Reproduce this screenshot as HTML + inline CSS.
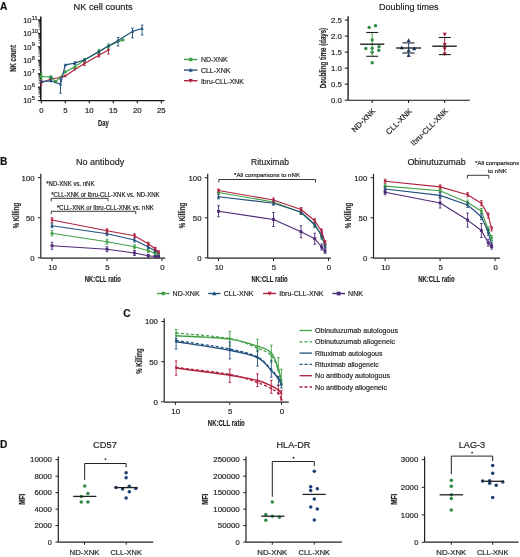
<!DOCTYPE html>
<html><head><meta charset="utf-8"><style>
html,body{margin:0;padding:0;background:#fff;width:520px;height:557px;overflow:hidden}
svg{display:block;will-change:transform}
text{font-family:"Liberation Sans", sans-serif;stroke:#222;stroke-width:0.18px;paint-order:stroke}
</style></head><body>
<svg width="520" height="557" viewBox="0 0 520 557">
<rect width="520" height="557" fill="#fff"/>
<text x="0" y="10.2" font-size="10.2" text-anchor="start" fill="#111" font-weight="bold">A</text>
<text x="0" y="165.2" font-size="10.2" text-anchor="start" fill="#111" font-weight="bold">B</text>
<text x="123.2" y="316.6" font-size="10.2" text-anchor="start" fill="#111" font-weight="bold">C</text>
<text x="0" y="447.9" font-size="10.2" text-anchor="start" fill="#111" font-weight="bold">D</text>
<text x="103.1" y="9.5" font-size="9.2" text-anchor="middle" fill="#222" textLength="59.2" lengthAdjust="spacingAndGlyphs">NK cell counts</text>
<line x1="40.8" y1="16.5" x2="40.8" y2="100.6" stroke="#111" stroke-width="1.5"/>
<line x1="37.8" y1="19.9" x2="40.8" y2="19.9" stroke="#111" stroke-width="1.1"/>
<line x1="38.6" y1="29.3" x2="40.8" y2="29.3" stroke="#111" stroke-width="0.8"/>
<line x1="38.6" y1="26.93" x2="40.8" y2="26.93" stroke="#111" stroke-width="0.8"/>
<line x1="38.6" y1="25.25" x2="40.8" y2="25.25" stroke="#111" stroke-width="0.8"/>
<line x1="38.6" y1="23.95" x2="40.8" y2="23.95" stroke="#111" stroke-width="0.8"/>
<line x1="38.6" y1="22.88" x2="40.8" y2="22.88" stroke="#111" stroke-width="0.8"/>
<line x1="38.6" y1="21.98" x2="40.8" y2="21.98" stroke="#111" stroke-width="0.8"/>
<line x1="38.6" y1="21.2" x2="40.8" y2="21.2" stroke="#111" stroke-width="0.8"/>
<line x1="38.6" y1="20.52" x2="40.8" y2="20.52" stroke="#111" stroke-width="0.8"/>
<text x="31.6" y="22.6" font-size="7.6" text-anchor="end" fill="#222">10</text>
<text x="31.7" y="19.5" font-size="5.6" fill="#222">11</text>
<line x1="37.8" y1="33.35" x2="40.8" y2="33.35" stroke="#111" stroke-width="1.1"/>
<line x1="38.6" y1="42.75" x2="40.8" y2="42.75" stroke="#111" stroke-width="0.8"/>
<line x1="38.6" y1="40.38" x2="40.8" y2="40.38" stroke="#111" stroke-width="0.8"/>
<line x1="38.6" y1="38.7" x2="40.8" y2="38.7" stroke="#111" stroke-width="0.8"/>
<line x1="38.6" y1="37.4" x2="40.8" y2="37.4" stroke="#111" stroke-width="0.8"/>
<line x1="38.6" y1="36.33" x2="40.8" y2="36.33" stroke="#111" stroke-width="0.8"/>
<line x1="38.6" y1="35.43" x2="40.8" y2="35.43" stroke="#111" stroke-width="0.8"/>
<line x1="38.6" y1="34.65" x2="40.8" y2="34.65" stroke="#111" stroke-width="0.8"/>
<line x1="38.6" y1="33.97" x2="40.8" y2="33.97" stroke="#111" stroke-width="0.8"/>
<text x="31.6" y="36.05" font-size="7.6" text-anchor="end" fill="#222">10</text>
<text x="31.7" y="32.95" font-size="5.6" fill="#222">10</text>
<line x1="37.8" y1="46.8" x2="40.8" y2="46.8" stroke="#111" stroke-width="1.1"/>
<line x1="38.6" y1="56.2" x2="40.8" y2="56.2" stroke="#111" stroke-width="0.8"/>
<line x1="38.6" y1="53.83" x2="40.8" y2="53.83" stroke="#111" stroke-width="0.8"/>
<line x1="38.6" y1="52.15" x2="40.8" y2="52.15" stroke="#111" stroke-width="0.8"/>
<line x1="38.6" y1="50.85" x2="40.8" y2="50.85" stroke="#111" stroke-width="0.8"/>
<line x1="38.6" y1="49.78" x2="40.8" y2="49.78" stroke="#111" stroke-width="0.8"/>
<line x1="38.6" y1="48.88" x2="40.8" y2="48.88" stroke="#111" stroke-width="0.8"/>
<line x1="38.6" y1="48.1" x2="40.8" y2="48.1" stroke="#111" stroke-width="0.8"/>
<line x1="38.6" y1="47.42" x2="40.8" y2="47.42" stroke="#111" stroke-width="0.8"/>
<text x="31.6" y="49.5" font-size="7.6" text-anchor="end" fill="#222">10</text>
<text x="31.7" y="46.4" font-size="5.6" fill="#222">9</text>
<line x1="37.8" y1="60.25" x2="40.8" y2="60.25" stroke="#111" stroke-width="1.1"/>
<line x1="38.6" y1="69.65" x2="40.8" y2="69.65" stroke="#111" stroke-width="0.8"/>
<line x1="38.6" y1="67.28" x2="40.8" y2="67.28" stroke="#111" stroke-width="0.8"/>
<line x1="38.6" y1="65.6" x2="40.8" y2="65.6" stroke="#111" stroke-width="0.8"/>
<line x1="38.6" y1="64.3" x2="40.8" y2="64.3" stroke="#111" stroke-width="0.8"/>
<line x1="38.6" y1="63.23" x2="40.8" y2="63.23" stroke="#111" stroke-width="0.8"/>
<line x1="38.6" y1="62.33" x2="40.8" y2="62.33" stroke="#111" stroke-width="0.8"/>
<line x1="38.6" y1="61.55" x2="40.8" y2="61.55" stroke="#111" stroke-width="0.8"/>
<line x1="38.6" y1="60.87" x2="40.8" y2="60.87" stroke="#111" stroke-width="0.8"/>
<text x="31.6" y="62.95" font-size="7.6" text-anchor="end" fill="#222">10</text>
<text x="31.7" y="59.85" font-size="5.6" fill="#222">8</text>
<line x1="37.8" y1="73.7" x2="40.8" y2="73.7" stroke="#111" stroke-width="1.1"/>
<line x1="38.6" y1="83.1" x2="40.8" y2="83.1" stroke="#111" stroke-width="0.8"/>
<line x1="38.6" y1="80.73" x2="40.8" y2="80.73" stroke="#111" stroke-width="0.8"/>
<line x1="38.6" y1="79.05" x2="40.8" y2="79.05" stroke="#111" stroke-width="0.8"/>
<line x1="38.6" y1="77.75" x2="40.8" y2="77.75" stroke="#111" stroke-width="0.8"/>
<line x1="38.6" y1="76.68" x2="40.8" y2="76.68" stroke="#111" stroke-width="0.8"/>
<line x1="38.6" y1="75.78" x2="40.8" y2="75.78" stroke="#111" stroke-width="0.8"/>
<line x1="38.6" y1="75" x2="40.8" y2="75" stroke="#111" stroke-width="0.8"/>
<line x1="38.6" y1="74.32" x2="40.8" y2="74.32" stroke="#111" stroke-width="0.8"/>
<text x="31.6" y="76.4" font-size="7.6" text-anchor="end" fill="#222">10</text>
<text x="31.7" y="73.3" font-size="5.6" fill="#222">7</text>
<line x1="37.8" y1="87.15" x2="40.8" y2="87.15" stroke="#111" stroke-width="1.1"/>
<line x1="38.6" y1="96.55" x2="40.8" y2="96.55" stroke="#111" stroke-width="0.8"/>
<line x1="38.6" y1="94.18" x2="40.8" y2="94.18" stroke="#111" stroke-width="0.8"/>
<line x1="38.6" y1="92.5" x2="40.8" y2="92.5" stroke="#111" stroke-width="0.8"/>
<line x1="38.6" y1="91.2" x2="40.8" y2="91.2" stroke="#111" stroke-width="0.8"/>
<line x1="38.6" y1="90.13" x2="40.8" y2="90.13" stroke="#111" stroke-width="0.8"/>
<line x1="38.6" y1="89.23" x2="40.8" y2="89.23" stroke="#111" stroke-width="0.8"/>
<line x1="38.6" y1="88.45" x2="40.8" y2="88.45" stroke="#111" stroke-width="0.8"/>
<line x1="38.6" y1="87.77" x2="40.8" y2="87.77" stroke="#111" stroke-width="0.8"/>
<text x="31.6" y="89.85" font-size="7.6" text-anchor="end" fill="#222">10</text>
<text x="31.7" y="86.75" font-size="5.6" fill="#222">6</text>
<line x1="37.8" y1="100.6" x2="40.8" y2="100.6" stroke="#111" stroke-width="1.1"/>
<text x="31.6" y="103.3" font-size="7.6" text-anchor="end" fill="#222">10</text>
<text x="31.7" y="100.2" font-size="5.6" fill="#222">5</text>
<line x1="40.8" y1="100.6" x2="164.5" y2="100.6" stroke="#111" stroke-width="1.1"/>
<line x1="41.3" y1="100.6" x2="41.3" y2="103.4" stroke="#111" stroke-width="1.0"/>
<text x="41.3" y="112.6" font-size="7.8" text-anchor="middle" fill="#222">0</text>
<line x1="65.3" y1="100.6" x2="65.3" y2="103.4" stroke="#111" stroke-width="1.0"/>
<text x="65.3" y="112.6" font-size="7.8" text-anchor="middle" fill="#222">5</text>
<line x1="89.3" y1="100.6" x2="89.3" y2="103.4" stroke="#111" stroke-width="1.0"/>
<text x="89.3" y="112.6" font-size="7.8" text-anchor="middle" fill="#222">10</text>
<line x1="113.3" y1="100.6" x2="113.3" y2="103.4" stroke="#111" stroke-width="1.0"/>
<text x="113.3" y="112.6" font-size="7.8" text-anchor="middle" fill="#222">15</text>
<line x1="137.3" y1="100.6" x2="137.3" y2="103.4" stroke="#111" stroke-width="1.0"/>
<text x="137.3" y="112.6" font-size="7.8" text-anchor="middle" fill="#222">20</text>
<line x1="161.3" y1="100.6" x2="161.3" y2="103.4" stroke="#111" stroke-width="1.0"/>
<text x="161.3" y="112.6" font-size="7.8" text-anchor="middle" fill="#222">25</text>
<text x="103.45" y="125.6" font-size="9.8" text-anchor="middle" fill="#222" font-weight="bold" textLength="10.7" lengthAdjust="spacingAndGlyphs">Day</text>
<text x="16.5" y="58.4" font-size="9.4" text-anchor="middle" fill="#222" font-weight="bold" textLength="26.7" lengthAdjust="spacingAndGlyphs" transform="rotate(-90 16.5 58.4)">NK count</text>
<polyline points="41.3,82.8 50.9,79 60.5,77.5 65.3,76.1 74.9,69.4 84.5,63.6 98.9,55.3 108.5,50" fill="none" stroke="#b0223f" stroke-width="1.2" stroke-linejoin="round"/>
<line x1="108.5" y1="46" x2="108.5" y2="54" stroke="#b0223f" stroke-width="0.9"/>
<line x1="107.2" y1="46" x2="109.8" y2="46" stroke="#b0223f" stroke-width="0.9"/>
<line x1="107.2" y1="54" x2="109.8" y2="54" stroke="#b0223f" stroke-width="0.9"/>
<line x1="84.5" y1="61.5" x2="84.5" y2="65.5" stroke="#b0223f" stroke-width="0.9"/>
<line x1="83.2" y1="61.5" x2="85.8" y2="61.5" stroke="#b0223f" stroke-width="0.9"/>
<line x1="83.2" y1="65.5" x2="85.8" y2="65.5" stroke="#b0223f" stroke-width="0.9"/>
<line x1="98.9" y1="53.5" x2="98.9" y2="57" stroke="#b0223f" stroke-width="0.9"/>
<line x1="97.6" y1="53.5" x2="100.2" y2="53.5" stroke="#b0223f" stroke-width="0.9"/>
<line x1="97.6" y1="57" x2="100.2" y2="57" stroke="#b0223f" stroke-width="0.9"/>
<line x1="41.3" y1="80.5" x2="41.3" y2="85" stroke="#b0223f" stroke-width="0.9"/>
<line x1="40" y1="80.5" x2="42.6" y2="80.5" stroke="#b0223f" stroke-width="0.9"/>
<line x1="40" y1="85" x2="42.6" y2="85" stroke="#b0223f" stroke-width="0.9"/>
<path d="M41.3,84.67 L43,81.44 L39.6,81.44Z" fill="#b0223f"/>
<path d="M50.9,80.87 L52.6,77.64 L49.2,77.64Z" fill="#b0223f"/>
<path d="M60.5,79.37 L62.2,76.14 L58.8,76.14Z" fill="#b0223f"/>
<path d="M65.3,77.97 L67,74.74 L63.6,74.74Z" fill="#b0223f"/>
<path d="M74.9,71.27 L76.6,68.04 L73.2,68.04Z" fill="#b0223f"/>
<path d="M84.5,65.47 L86.2,62.24 L82.8,62.24Z" fill="#b0223f"/>
<path d="M98.9,57.17 L100.6,53.94 L97.2,53.94Z" fill="#b0223f"/>
<path d="M108.5,51.87 L110.2,48.64 L106.8,48.64Z" fill="#b0223f"/>
<polyline points="41.3,76.5 50.9,77.2 55.7,81.7 65.3,71.9 74.9,66.9 84.5,60.1 98.9,51.8 108.5,46 122.9,39.9" fill="none" stroke="#42a247" stroke-width="1.2" stroke-linejoin="round"/>
<line x1="41.3" y1="73.4" x2="41.3" y2="79.5" stroke="#42a247" stroke-width="0.9"/>
<line x1="40" y1="73.4" x2="42.6" y2="73.4" stroke="#42a247" stroke-width="0.9"/>
<line x1="40" y1="79.5" x2="42.6" y2="79.5" stroke="#42a247" stroke-width="0.9"/>
<line x1="50.9" y1="75.8" x2="50.9" y2="78.8" stroke="#42a247" stroke-width="0.9"/>
<line x1="49.6" y1="75.8" x2="52.2" y2="75.8" stroke="#42a247" stroke-width="0.9"/>
<line x1="49.6" y1="78.8" x2="52.2" y2="78.8" stroke="#42a247" stroke-width="0.9"/>
<line x1="84.5" y1="58.5" x2="84.5" y2="61.5" stroke="#42a247" stroke-width="0.9"/>
<line x1="83.2" y1="58.5" x2="85.8" y2="58.5" stroke="#42a247" stroke-width="0.9"/>
<line x1="83.2" y1="61.5" x2="85.8" y2="61.5" stroke="#42a247" stroke-width="0.9"/>
<line x1="98.9" y1="49.4" x2="98.9" y2="53.5" stroke="#42a247" stroke-width="0.9"/>
<line x1="97.6" y1="49.4" x2="100.2" y2="49.4" stroke="#42a247" stroke-width="0.9"/>
<line x1="97.6" y1="53.5" x2="100.2" y2="53.5" stroke="#42a247" stroke-width="0.9"/>
<line x1="108.5" y1="43.8" x2="108.5" y2="48" stroke="#42a247" stroke-width="0.9"/>
<line x1="107.2" y1="43.8" x2="109.8" y2="43.8" stroke="#42a247" stroke-width="0.9"/>
<line x1="107.2" y1="48" x2="109.8" y2="48" stroke="#42a247" stroke-width="0.9"/>
<circle cx="41.3" cy="76.5" r="1.7" fill="#42a247"/>
<circle cx="50.9" cy="77.2" r="1.7" fill="#42a247"/>
<circle cx="55.7" cy="81.7" r="1.7" fill="#42a247"/>
<circle cx="65.3" cy="71.9" r="1.7" fill="#42a247"/>
<circle cx="74.9" cy="66.9" r="1.7" fill="#42a247"/>
<circle cx="84.5" cy="60.1" r="1.7" fill="#42a247"/>
<circle cx="98.9" cy="51.8" r="1.7" fill="#42a247"/>
<circle cx="108.5" cy="46" r="1.7" fill="#42a247"/>
<circle cx="122.9" cy="39.9" r="1.7" fill="#42a247"/>
<polyline points="41.3,81.7 50.9,80.8 60.5,84.2 65.3,64.9 74.9,63.1 84.5,59.8 98.9,51.6 108.5,46 118.1,40.5 132.5,31.4 142.1,28.5" fill="none" stroke="#22507f" stroke-width="1.2" stroke-linejoin="round"/>
<line x1="60.5" y1="79" x2="60.5" y2="93.2" stroke="#22507f" stroke-width="0.9"/>
<line x1="59.2" y1="79" x2="61.8" y2="79" stroke="#22507f" stroke-width="0.9"/>
<line x1="59.2" y1="93.2" x2="61.8" y2="93.2" stroke="#22507f" stroke-width="0.9"/>
<line x1="74.9" y1="61.9" x2="74.9" y2="64.5" stroke="#22507f" stroke-width="0.9"/>
<line x1="73.6" y1="61.9" x2="76.2" y2="61.9" stroke="#22507f" stroke-width="0.9"/>
<line x1="73.6" y1="64.5" x2="76.2" y2="64.5" stroke="#22507f" stroke-width="0.9"/>
<line x1="118.1" y1="37.5" x2="118.1" y2="46" stroke="#22507f" stroke-width="0.9"/>
<line x1="116.8" y1="37.5" x2="119.4" y2="37.5" stroke="#22507f" stroke-width="0.9"/>
<line x1="116.8" y1="46" x2="119.4" y2="46" stroke="#22507f" stroke-width="0.9"/>
<line x1="132.5" y1="28.2" x2="132.5" y2="37.9" stroke="#22507f" stroke-width="0.9"/>
<line x1="131.2" y1="28.2" x2="133.8" y2="28.2" stroke="#22507f" stroke-width="0.9"/>
<line x1="131.2" y1="37.9" x2="133.8" y2="37.9" stroke="#22507f" stroke-width="0.9"/>
<line x1="142.1" y1="25.1" x2="142.1" y2="34.9" stroke="#22507f" stroke-width="0.9"/>
<line x1="140.8" y1="25.1" x2="143.4" y2="25.1" stroke="#22507f" stroke-width="0.9"/>
<line x1="140.8" y1="34.9" x2="143.4" y2="34.9" stroke="#22507f" stroke-width="0.9"/>
<line x1="50.9" y1="77.5" x2="50.9" y2="81" stroke="#22507f" stroke-width="0.9"/>
<line x1="49.6" y1="77.5" x2="52.2" y2="77.5" stroke="#22507f" stroke-width="0.9"/>
<line x1="49.6" y1="81" x2="52.2" y2="81" stroke="#22507f" stroke-width="0.9"/>
<path d="M41.3,79.83 L43,83.06 L39.6,83.06Z" fill="#22507f"/>
<path d="M50.9,78.93 L52.6,82.16 L49.2,82.16Z" fill="#22507f"/>
<path d="M60.5,82.33 L62.2,85.56 L58.8,85.56Z" fill="#22507f"/>
<path d="M65.3,63.03 L67,66.26 L63.6,66.26Z" fill="#22507f"/>
<path d="M74.9,61.23 L76.6,64.46 L73.2,64.46Z" fill="#22507f"/>
<path d="M84.5,57.93 L86.2,61.16 L82.8,61.16Z" fill="#22507f"/>
<path d="M98.9,49.73 L100.6,52.96 L97.2,52.96Z" fill="#22507f"/>
<path d="M108.5,44.13 L110.2,47.36 L106.8,47.36Z" fill="#22507f"/>
<path d="M118.1,38.63 L119.8,41.86 L116.4,41.86Z" fill="#22507f"/>
<path d="M132.5,29.53 L134.2,32.76 L130.8,32.76Z" fill="#22507f"/>
<path d="M142.1,26.63 L143.8,29.86 L140.4,29.86Z" fill="#22507f"/>
<line x1="184" y1="59.5" x2="197.4" y2="59.5" stroke="#42a247" stroke-width="1.4"/>
<circle cx="190.7" cy="59.5" r="2" fill="#42a247"/>
<text x="200.9" y="62.3" font-size="7.9" text-anchor="start" fill="#222" textLength="26.9" lengthAdjust="spacingAndGlyphs">ND-XNK</text>
<line x1="184" y1="70.1" x2="197.4" y2="70.1" stroke="#22507f" stroke-width="1.4"/>
<path d="M190.7,67.9 L192.7,71.7 L188.7,71.7Z" fill="#22507f"/>
<text x="200.9" y="72.9" font-size="7.9" text-anchor="start" fill="#222" textLength="29.6" lengthAdjust="spacingAndGlyphs">CLL-XNK</text>
<line x1="184" y1="80.7" x2="197.4" y2="80.7" stroke="#b0223f" stroke-width="1.4"/>
<path d="M190.7,82.9 L192.7,79.1 L188.7,79.1Z" fill="#b0223f"/>
<text x="200.9" y="83.5" font-size="7.9" text-anchor="start" fill="#222" textLength="43" lengthAdjust="spacingAndGlyphs">Ibru-CLL-XNK</text>
<text x="408.7" y="9.5" font-size="9.2" text-anchor="middle" fill="#222" textLength="59.6" lengthAdjust="spacingAndGlyphs">Doubling times</text>
<line x1="348.1" y1="16.2" x2="348.1" y2="100.2" stroke="#111" stroke-width="1.3"/>
<line x1="348.1" y1="100.2" x2="469.8" y2="100.2" stroke="#111" stroke-width="1.1"/>
<line x1="344.8" y1="100.2" x2="348.1" y2="100.2" stroke="#111" stroke-width="1.0"/>
<text x="341.8" y="103" font-size="7.8" text-anchor="end" fill="#222">0.0</text>
<line x1="344.8" y1="84.17" x2="348.1" y2="84.17" stroke="#111" stroke-width="1.0"/>
<text x="341.8" y="86.97" font-size="7.8" text-anchor="end" fill="#222">0.5</text>
<line x1="344.8" y1="68.14" x2="348.1" y2="68.14" stroke="#111" stroke-width="1.0"/>
<text x="341.8" y="70.94" font-size="7.8" text-anchor="end" fill="#222">1.0</text>
<line x1="344.8" y1="52.11" x2="348.1" y2="52.11" stroke="#111" stroke-width="1.0"/>
<text x="341.8" y="54.91" font-size="7.8" text-anchor="end" fill="#222">1.5</text>
<line x1="344.8" y1="36.08" x2="348.1" y2="36.08" stroke="#111" stroke-width="1.0"/>
<text x="341.8" y="38.88" font-size="7.8" text-anchor="end" fill="#222">2.0</text>
<line x1="344.8" y1="20.05" x2="348.1" y2="20.05" stroke="#111" stroke-width="1.0"/>
<text x="341.8" y="22.85" font-size="7.8" text-anchor="end" fill="#222">2.5</text>
<text x="326.4" y="58" font-size="9.4" text-anchor="middle" fill="#222" font-weight="bold" textLength="60.3" lengthAdjust="spacingAndGlyphs" transform="rotate(-90 326.4 58)">Doubling time (days)</text>
<line x1="372.2" y1="100.2" x2="372.2" y2="103" stroke="#111" stroke-width="1.0"/>
<text x="376" y="111.7" font-size="7.8" text-anchor="end" fill="#222" transform="rotate(-45 376 111.7)">ND-XNK</text>
<line x1="408.6" y1="100.2" x2="408.6" y2="103" stroke="#111" stroke-width="1.0"/>
<text x="412.4" y="111.7" font-size="7.8" text-anchor="end" fill="#222" transform="rotate(-45 412.4 111.7)">CLL-XNK</text>
<line x1="444.7" y1="100.2" x2="444.7" y2="103" stroke="#111" stroke-width="1.0"/>
<text x="448.5" y="111.7" font-size="7.8" text-anchor="end" fill="#222" transform="rotate(-45 448.5 111.7)">Ibru-CLL-XNK</text>
<circle cx="369.1" cy="27.4" r="1.7" fill="#2e8a45"/>
<circle cx="375.5" cy="25.7" r="1.7" fill="#2e8a45"/>
<circle cx="372.2" cy="39.9" r="1.7" fill="#2e8a45"/>
<circle cx="365.8" cy="48.5" r="1.7" fill="#2e8a45"/>
<circle cx="372.2" cy="48.3" r="1.7" fill="#2e8a45"/>
<circle cx="379" cy="46.6" r="1.7" fill="#2e8a45"/>
<circle cx="378.8" cy="50.3" r="1.7" fill="#2e8a45"/>
<circle cx="372.2" cy="52.3" r="1.7" fill="#2e8a45"/>
<circle cx="372.2" cy="62.8" r="1.7" fill="#2e8a45"/>
<line x1="372.2" y1="32.5" x2="372.2" y2="56.3" stroke="#42a247" stroke-width="1.0"/>
<line x1="366.2" y1="32.5" x2="378.3" y2="32.5" stroke="#222" stroke-width="1.1"/>
<line x1="366.2" y1="56.3" x2="378.3" y2="56.3" stroke="#222" stroke-width="1.1"/>
<line x1="360.1" y1="44.2" x2="384.3" y2="44.2" stroke="#111" stroke-width="1.3"/>
<line x1="408.6" y1="42.9" x2="408.6" y2="53" stroke="#22507f" stroke-width="1.0"/>
<path d="M408.6,38.3 L410.6,42.1 L406.6,42.1Z" fill="#1b3f70"/>
<path d="M401.8,45.4 L403.8,49.2 L399.8,49.2Z" fill="#1b3f70"/>
<path d="M414.2,46.5 L416.2,50.3 L412.2,50.3Z" fill="#1b3f70"/>
<path d="M408.6,48.1 L410.6,51.9 L406.6,51.9Z" fill="#1b3f70"/>
<path d="M408.6,53.1 L410.6,56.9 L406.6,56.9Z" fill="#1b3f70"/>
<line x1="402.4" y1="42.9" x2="414.6" y2="42.9" stroke="#222" stroke-width="1.1"/>
<line x1="402.4" y1="53" x2="414.6" y2="53" stroke="#222" stroke-width="1.1"/>
<line x1="396" y1="48" x2="421" y2="48" stroke="#111" stroke-width="1.3"/>
<line x1="444.7" y1="37.5" x2="444.7" y2="54.6" stroke="#b0223f" stroke-width="1.0"/>
<path d="M444.7,36.6 L446.7,32.8 L442.7,32.8Z" fill="#a3163a"/>
<path d="M444.7,46.7 L446.7,42.9 L442.7,42.9Z" fill="#a3163a"/>
<path d="M444.7,51 L446.7,47.2 L442.7,47.2Z" fill="#a3163a"/>
<path d="M444.7,56.3 L446.7,52.5 L442.7,52.5Z" fill="#a3163a"/>
<line x1="438.75" y1="37.5" x2="450.8" y2="37.5" stroke="#222" stroke-width="1.1"/>
<line x1="438.75" y1="54.6" x2="450.8" y2="54.6" stroke="#222" stroke-width="1.1"/>
<line x1="432.3" y1="46.2" x2="456.8" y2="46.2" stroke="#111" stroke-width="1.3"/>
<line x1="40.8" y1="173.8" x2="40.8" y2="258.2" stroke="#222" stroke-width="1.2"/>
<line x1="40.8" y1="258.2" x2="165.2" y2="258.2" stroke="#222" stroke-width="1.2"/>
<line x1="37.8" y1="177.7" x2="40.8" y2="177.7" stroke="#222" stroke-width="1.0"/>
<text x="34.6" y="180.5" font-size="7.8" text-anchor="end" fill="#222">100</text>
<line x1="37.8" y1="217.8" x2="40.8" y2="217.8" stroke="#222" stroke-width="1.0"/>
<text x="34.6" y="220.6" font-size="7.8" text-anchor="end" fill="#222">50</text>
<line x1="37.8" y1="257.8" x2="40.8" y2="257.8" stroke="#222" stroke-width="1.0"/>
<text x="34.6" y="260.6" font-size="7.8" text-anchor="end" fill="#222">0</text>
<line x1="52" y1="258.2" x2="52" y2="261" stroke="#222" stroke-width="1.0"/>
<text x="52.5" y="269.6" font-size="7.8" text-anchor="middle" fill="#222">10</text>
<line x1="107" y1="258.2" x2="107" y2="261" stroke="#222" stroke-width="1.0"/>
<text x="107.5" y="269.6" font-size="7.8" text-anchor="middle" fill="#222">5</text>
<line x1="162" y1="258.2" x2="162" y2="261" stroke="#222" stroke-width="1.0"/>
<text x="162.5" y="269.6" font-size="7.8" text-anchor="middle" fill="#222">0</text>
<text x="102.8" y="281.8" font-size="9.7" text-anchor="middle" fill="#222" font-weight="bold" textLength="36.2" lengthAdjust="spacingAndGlyphs">NK:CLL ratio</text>
<text x="18.6" y="215.6" font-size="9.3" text-anchor="middle" fill="#222" font-weight="bold" textLength="25.5" lengthAdjust="spacingAndGlyphs" transform="rotate(-90 18.6 215.6)">% Killing</text>
<text x="100.1" y="165" font-size="9.2" text-anchor="middle" fill="#222" textLength="48.2" lengthAdjust="spacingAndGlyphs">No antibody</text>
<polyline points="52,233.25 107,241.75 134.5,246.75 148.25,250.75 155.12,253.25 158.56,255" fill="none" stroke="#42a247" stroke-width="1.15" stroke-linejoin="round"/>
<line x1="52" y1="230.75" x2="52" y2="235.75" stroke="#42a247" stroke-width="0.9"/>
<line x1="50.7" y1="230.75" x2="53.3" y2="230.75" stroke="#42a247" stroke-width="0.9"/>
<line x1="50.7" y1="235.75" x2="53.3" y2="235.75" stroke="#42a247" stroke-width="0.9"/>
<circle cx="52" cy="233.25" r="1.6" fill="#42a247"/>
<line x1="107" y1="239.25" x2="107" y2="244.25" stroke="#42a247" stroke-width="0.9"/>
<line x1="105.7" y1="239.25" x2="108.3" y2="239.25" stroke="#42a247" stroke-width="0.9"/>
<line x1="105.7" y1="244.25" x2="108.3" y2="244.25" stroke="#42a247" stroke-width="0.9"/>
<circle cx="107" cy="241.75" r="1.6" fill="#42a247"/>
<line x1="134.5" y1="244.75" x2="134.5" y2="248.75" stroke="#42a247" stroke-width="0.9"/>
<line x1="133.2" y1="244.75" x2="135.8" y2="244.75" stroke="#42a247" stroke-width="0.9"/>
<line x1="133.2" y1="248.75" x2="135.8" y2="248.75" stroke="#42a247" stroke-width="0.9"/>
<circle cx="134.5" cy="246.75" r="1.6" fill="#42a247"/>
<line x1="148.25" y1="249.25" x2="148.25" y2="252.25" stroke="#42a247" stroke-width="0.9"/>
<line x1="146.95" y1="249.25" x2="149.55" y2="249.25" stroke="#42a247" stroke-width="0.9"/>
<line x1="146.95" y1="252.25" x2="149.55" y2="252.25" stroke="#42a247" stroke-width="0.9"/>
<circle cx="148.25" cy="250.75" r="1.6" fill="#42a247"/>
<line x1="155.12" y1="251.75" x2="155.12" y2="254.75" stroke="#42a247" stroke-width="0.9"/>
<line x1="153.82" y1="251.75" x2="156.43" y2="251.75" stroke="#42a247" stroke-width="0.9"/>
<line x1="153.82" y1="254.75" x2="156.43" y2="254.75" stroke="#42a247" stroke-width="0.9"/>
<circle cx="155.12" cy="253.25" r="1.6" fill="#42a247"/>
<line x1="158.56" y1="254" x2="158.56" y2="256" stroke="#42a247" stroke-width="0.9"/>
<line x1="157.26" y1="254" x2="159.86" y2="254" stroke="#42a247" stroke-width="0.9"/>
<line x1="157.26" y1="256" x2="159.86" y2="256" stroke="#42a247" stroke-width="0.9"/>
<circle cx="158.56" cy="255" r="1.6" fill="#42a247"/>
<polyline points="52,225.75 107,233.75 134.5,240 148.25,247 155.12,250.75 158.56,252.5" fill="none" stroke="#22507f" stroke-width="1.15" stroke-linejoin="round"/>
<line x1="52" y1="223.75" x2="52" y2="227.75" stroke="#22507f" stroke-width="0.9"/>
<line x1="50.7" y1="223.75" x2="53.3" y2="223.75" stroke="#22507f" stroke-width="0.9"/>
<line x1="50.7" y1="227.75" x2="53.3" y2="227.75" stroke="#22507f" stroke-width="0.9"/>
<path d="M52,223.99 L53.6,227.03 L50.4,227.03Z" fill="#22507f"/>
<line x1="107" y1="231.75" x2="107" y2="235.75" stroke="#22507f" stroke-width="0.9"/>
<line x1="105.7" y1="231.75" x2="108.3" y2="231.75" stroke="#22507f" stroke-width="0.9"/>
<line x1="105.7" y1="235.75" x2="108.3" y2="235.75" stroke="#22507f" stroke-width="0.9"/>
<path d="M107,231.99 L108.6,235.03 L105.4,235.03Z" fill="#22507f"/>
<line x1="134.5" y1="238" x2="134.5" y2="242" stroke="#22507f" stroke-width="0.9"/>
<line x1="133.2" y1="238" x2="135.8" y2="238" stroke="#22507f" stroke-width="0.9"/>
<line x1="133.2" y1="242" x2="135.8" y2="242" stroke="#22507f" stroke-width="0.9"/>
<path d="M134.5,238.24 L136.1,241.28 L132.9,241.28Z" fill="#22507f"/>
<line x1="148.25" y1="245.5" x2="148.25" y2="248.5" stroke="#22507f" stroke-width="0.9"/>
<line x1="146.95" y1="245.5" x2="149.55" y2="245.5" stroke="#22507f" stroke-width="0.9"/>
<line x1="146.95" y1="248.5" x2="149.55" y2="248.5" stroke="#22507f" stroke-width="0.9"/>
<path d="M148.25,245.24 L149.85,248.28 L146.65,248.28Z" fill="#22507f"/>
<line x1="155.12" y1="249.25" x2="155.12" y2="252.25" stroke="#22507f" stroke-width="0.9"/>
<line x1="153.82" y1="249.25" x2="156.43" y2="249.25" stroke="#22507f" stroke-width="0.9"/>
<line x1="153.82" y1="252.25" x2="156.43" y2="252.25" stroke="#22507f" stroke-width="0.9"/>
<path d="M155.12,248.99 L156.72,252.03 L153.53,252.03Z" fill="#22507f"/>
<line x1="158.56" y1="251.5" x2="158.56" y2="253.5" stroke="#22507f" stroke-width="0.9"/>
<line x1="157.26" y1="251.5" x2="159.86" y2="251.5" stroke="#22507f" stroke-width="0.9"/>
<line x1="157.26" y1="253.5" x2="159.86" y2="253.5" stroke="#22507f" stroke-width="0.9"/>
<path d="M158.56,250.74 L160.16,253.78 L156.96,253.78Z" fill="#22507f"/>
<polyline points="52,220 107,230.75 134.5,235.75 148.25,243.75 155.12,248.75 158.56,252" fill="none" stroke="#b0223f" stroke-width="1.15" stroke-linejoin="round"/>
<line x1="52" y1="217.7" x2="52" y2="222.3" stroke="#b0223f" stroke-width="0.9"/>
<line x1="50.7" y1="217.7" x2="53.3" y2="217.7" stroke="#b0223f" stroke-width="0.9"/>
<line x1="50.7" y1="222.3" x2="53.3" y2="222.3" stroke="#b0223f" stroke-width="0.9"/>
<path d="M52,221.76 L53.6,218.72 L50.4,218.72Z" fill="#b0223f"/>
<line x1="107" y1="228.75" x2="107" y2="232.75" stroke="#b0223f" stroke-width="0.9"/>
<line x1="105.7" y1="228.75" x2="108.3" y2="228.75" stroke="#b0223f" stroke-width="0.9"/>
<line x1="105.7" y1="232.75" x2="108.3" y2="232.75" stroke="#b0223f" stroke-width="0.9"/>
<path d="M107,232.51 L108.6,229.47 L105.4,229.47Z" fill="#b0223f"/>
<line x1="134.5" y1="233.75" x2="134.5" y2="237.75" stroke="#b0223f" stroke-width="0.9"/>
<line x1="133.2" y1="233.75" x2="135.8" y2="233.75" stroke="#b0223f" stroke-width="0.9"/>
<line x1="133.2" y1="237.75" x2="135.8" y2="237.75" stroke="#b0223f" stroke-width="0.9"/>
<path d="M134.5,237.51 L136.1,234.47 L132.9,234.47Z" fill="#b0223f"/>
<line x1="148.25" y1="242.25" x2="148.25" y2="245.25" stroke="#b0223f" stroke-width="0.9"/>
<line x1="146.95" y1="242.25" x2="149.55" y2="242.25" stroke="#b0223f" stroke-width="0.9"/>
<line x1="146.95" y1="245.25" x2="149.55" y2="245.25" stroke="#b0223f" stroke-width="0.9"/>
<path d="M148.25,245.51 L149.85,242.47 L146.65,242.47Z" fill="#b0223f"/>
<line x1="155.12" y1="247.25" x2="155.12" y2="250.25" stroke="#b0223f" stroke-width="0.9"/>
<line x1="153.82" y1="247.25" x2="156.43" y2="247.25" stroke="#b0223f" stroke-width="0.9"/>
<line x1="153.82" y1="250.25" x2="156.43" y2="250.25" stroke="#b0223f" stroke-width="0.9"/>
<path d="M155.12,250.51 L156.72,247.47 L153.53,247.47Z" fill="#b0223f"/>
<line x1="158.56" y1="251" x2="158.56" y2="253" stroke="#b0223f" stroke-width="0.9"/>
<line x1="157.26" y1="251" x2="159.86" y2="251" stroke="#b0223f" stroke-width="0.9"/>
<line x1="157.26" y1="253" x2="159.86" y2="253" stroke="#b0223f" stroke-width="0.9"/>
<path d="M158.56,253.76 L160.16,250.72 L156.96,250.72Z" fill="#b0223f"/>
<polyline points="52,245.75 107,249.25 134.5,253 148.25,255.75 155.12,256.5 158.56,256.5" fill="none" stroke="#4e2a76" stroke-width="1.15" stroke-linejoin="round"/>
<line x1="52" y1="242.25" x2="52" y2="249.25" stroke="#4e2a76" stroke-width="0.9"/>
<line x1="50.7" y1="242.25" x2="53.3" y2="242.25" stroke="#4e2a76" stroke-width="0.9"/>
<line x1="50.7" y1="249.25" x2="53.3" y2="249.25" stroke="#4e2a76" stroke-width="0.9"/>
<rect x="50.56" y="244.31" width="2.88" height="2.88" fill="#4e2a76"/>
<line x1="107" y1="246.75" x2="107" y2="251.75" stroke="#4e2a76" stroke-width="0.9"/>
<line x1="105.7" y1="246.75" x2="108.3" y2="246.75" stroke="#4e2a76" stroke-width="0.9"/>
<line x1="105.7" y1="251.75" x2="108.3" y2="251.75" stroke="#4e2a76" stroke-width="0.9"/>
<rect x="105.56" y="247.81" width="2.88" height="2.88" fill="#4e2a76"/>
<line x1="134.5" y1="250.5" x2="134.5" y2="255.5" stroke="#4e2a76" stroke-width="0.9"/>
<line x1="133.2" y1="250.5" x2="135.8" y2="250.5" stroke="#4e2a76" stroke-width="0.9"/>
<line x1="133.2" y1="255.5" x2="135.8" y2="255.5" stroke="#4e2a76" stroke-width="0.9"/>
<rect x="133.06" y="251.56" width="2.88" height="2.88" fill="#4e2a76"/>
<line x1="148.25" y1="254.25" x2="148.25" y2="257.25" stroke="#4e2a76" stroke-width="0.9"/>
<line x1="146.95" y1="254.25" x2="149.55" y2="254.25" stroke="#4e2a76" stroke-width="0.9"/>
<line x1="146.95" y1="257.25" x2="149.55" y2="257.25" stroke="#4e2a76" stroke-width="0.9"/>
<rect x="146.81" y="254.31" width="2.88" height="2.88" fill="#4e2a76"/>
<line x1="155.12" y1="255.5" x2="155.12" y2="257.5" stroke="#4e2a76" stroke-width="0.9"/>
<line x1="153.82" y1="255.5" x2="156.43" y2="255.5" stroke="#4e2a76" stroke-width="0.9"/>
<line x1="153.82" y1="257.5" x2="156.43" y2="257.5" stroke="#4e2a76" stroke-width="0.9"/>
<rect x="153.69" y="255.06" width="2.88" height="2.88" fill="#4e2a76"/>
<line x1="158.56" y1="255.5" x2="158.56" y2="257.5" stroke="#4e2a76" stroke-width="0.9"/>
<line x1="157.26" y1="255.5" x2="159.86" y2="255.5" stroke="#4e2a76" stroke-width="0.9"/>
<line x1="157.26" y1="257.5" x2="159.86" y2="257.5" stroke="#4e2a76" stroke-width="0.9"/>
<rect x="157.12" y="255.06" width="2.88" height="2.88" fill="#4e2a76"/>
<line x1="207.7" y1="173.8" x2="207.7" y2="258.2" stroke="#222" stroke-width="1.2"/>
<line x1="207.7" y1="258.2" x2="331" y2="258.2" stroke="#222" stroke-width="1.2"/>
<line x1="204.7" y1="177.7" x2="207.7" y2="177.7" stroke="#222" stroke-width="1.0"/>
<text x="201.5" y="180.5" font-size="7.8" text-anchor="end" fill="#222">100</text>
<line x1="204.7" y1="217.8" x2="207.7" y2="217.8" stroke="#222" stroke-width="1.0"/>
<text x="201.5" y="220.6" font-size="7.8" text-anchor="end" fill="#222">50</text>
<line x1="204.7" y1="257.8" x2="207.7" y2="257.8" stroke="#222" stroke-width="1.0"/>
<text x="201.5" y="260.6" font-size="7.8" text-anchor="end" fill="#222">0</text>
<line x1="218.5" y1="258.2" x2="218.5" y2="261" stroke="#222" stroke-width="1.0"/>
<text x="219" y="269.6" font-size="7.8" text-anchor="middle" fill="#222">10</text>
<line x1="273.5" y1="258.2" x2="273.5" y2="261" stroke="#222" stroke-width="1.0"/>
<text x="274" y="269.6" font-size="7.8" text-anchor="middle" fill="#222">5</text>
<line x1="328.5" y1="258.2" x2="328.5" y2="261" stroke="#222" stroke-width="1.0"/>
<text x="329" y="269.6" font-size="7.8" text-anchor="middle" fill="#222">0</text>
<text x="269.6" y="281.8" font-size="9.7" text-anchor="middle" fill="#222" font-weight="bold" textLength="36.2" lengthAdjust="spacingAndGlyphs">NK:CLL ratio</text>
<text x="184.6" y="215.6" font-size="9.3" text-anchor="middle" fill="#222" font-weight="bold" textLength="25.5" lengthAdjust="spacingAndGlyphs" transform="rotate(-90 184.6 215.6)">% Killing</text>
<text x="270" y="165" font-size="9.2" text-anchor="middle" fill="#222" textLength="38" lengthAdjust="spacingAndGlyphs">Rituximab</text>
<polyline points="218.5,192.5 273.5,202 301,212.5 314.75,225 321.62,236.25 325.06,245.5" fill="none" stroke="#42a247" stroke-width="1.15" stroke-linejoin="round"/>
<line x1="218.5" y1="191" x2="218.5" y2="194" stroke="#42a247" stroke-width="0.9"/>
<line x1="217.2" y1="191" x2="219.8" y2="191" stroke="#42a247" stroke-width="0.9"/>
<line x1="217.2" y1="194" x2="219.8" y2="194" stroke="#42a247" stroke-width="0.9"/>
<circle cx="218.5" cy="192.5" r="1.6" fill="#42a247"/>
<line x1="273.5" y1="200" x2="273.5" y2="204" stroke="#42a247" stroke-width="0.9"/>
<line x1="272.2" y1="200" x2="274.8" y2="200" stroke="#42a247" stroke-width="0.9"/>
<line x1="272.2" y1="204" x2="274.8" y2="204" stroke="#42a247" stroke-width="0.9"/>
<circle cx="273.5" cy="202" r="1.6" fill="#42a247"/>
<line x1="301" y1="210.5" x2="301" y2="214.5" stroke="#42a247" stroke-width="0.9"/>
<line x1="299.7" y1="210.5" x2="302.3" y2="210.5" stroke="#42a247" stroke-width="0.9"/>
<line x1="299.7" y1="214.5" x2="302.3" y2="214.5" stroke="#42a247" stroke-width="0.9"/>
<circle cx="301" cy="212.5" r="1.6" fill="#42a247"/>
<line x1="314.75" y1="222.5" x2="314.75" y2="227.5" stroke="#42a247" stroke-width="0.9"/>
<line x1="313.45" y1="222.5" x2="316.05" y2="222.5" stroke="#42a247" stroke-width="0.9"/>
<line x1="313.45" y1="227.5" x2="316.05" y2="227.5" stroke="#42a247" stroke-width="0.9"/>
<circle cx="314.75" cy="225" r="1.6" fill="#42a247"/>
<line x1="321.62" y1="233.25" x2="321.62" y2="239.25" stroke="#42a247" stroke-width="0.9"/>
<line x1="320.32" y1="233.25" x2="322.93" y2="233.25" stroke="#42a247" stroke-width="0.9"/>
<line x1="320.32" y1="239.25" x2="322.93" y2="239.25" stroke="#42a247" stroke-width="0.9"/>
<circle cx="321.62" cy="236.25" r="1.6" fill="#42a247"/>
<line x1="325.06" y1="243.5" x2="325.06" y2="247.5" stroke="#42a247" stroke-width="0.9"/>
<line x1="323.76" y1="243.5" x2="326.36" y2="243.5" stroke="#42a247" stroke-width="0.9"/>
<line x1="323.76" y1="247.5" x2="326.36" y2="247.5" stroke="#42a247" stroke-width="0.9"/>
<circle cx="325.06" cy="245.5" r="1.6" fill="#42a247"/>
<polyline points="218.5,196.75 273.5,203.25 301,212 314.75,224.5 321.62,235 325.06,246.25" fill="none" stroke="#22507f" stroke-width="1.15" stroke-linejoin="round"/>
<line x1="218.5" y1="194.75" x2="218.5" y2="198.75" stroke="#22507f" stroke-width="0.9"/>
<line x1="217.2" y1="194.75" x2="219.8" y2="194.75" stroke="#22507f" stroke-width="0.9"/>
<line x1="217.2" y1="198.75" x2="219.8" y2="198.75" stroke="#22507f" stroke-width="0.9"/>
<path d="M218.5,194.99 L220.1,198.03 L216.9,198.03Z" fill="#22507f"/>
<line x1="273.5" y1="201.25" x2="273.5" y2="205.25" stroke="#22507f" stroke-width="0.9"/>
<line x1="272.2" y1="201.25" x2="274.8" y2="201.25" stroke="#22507f" stroke-width="0.9"/>
<line x1="272.2" y1="205.25" x2="274.8" y2="205.25" stroke="#22507f" stroke-width="0.9"/>
<path d="M273.5,201.49 L275.1,204.53 L271.9,204.53Z" fill="#22507f"/>
<line x1="301" y1="209.5" x2="301" y2="214.5" stroke="#22507f" stroke-width="0.9"/>
<line x1="299.7" y1="209.5" x2="302.3" y2="209.5" stroke="#22507f" stroke-width="0.9"/>
<line x1="299.7" y1="214.5" x2="302.3" y2="214.5" stroke="#22507f" stroke-width="0.9"/>
<path d="M301,210.24 L302.6,213.28 L299.4,213.28Z" fill="#22507f"/>
<line x1="314.75" y1="222" x2="314.75" y2="227" stroke="#22507f" stroke-width="0.9"/>
<line x1="313.45" y1="222" x2="316.05" y2="222" stroke="#22507f" stroke-width="0.9"/>
<line x1="313.45" y1="227" x2="316.05" y2="227" stroke="#22507f" stroke-width="0.9"/>
<path d="M314.75,222.74 L316.35,225.78 L313.15,225.78Z" fill="#22507f"/>
<line x1="321.62" y1="232" x2="321.62" y2="238" stroke="#22507f" stroke-width="0.9"/>
<line x1="320.32" y1="232" x2="322.93" y2="232" stroke="#22507f" stroke-width="0.9"/>
<line x1="320.32" y1="238" x2="322.93" y2="238" stroke="#22507f" stroke-width="0.9"/>
<path d="M321.62,233.24 L323.23,236.28 L320.02,236.28Z" fill="#22507f"/>
<line x1="325.06" y1="244.25" x2="325.06" y2="248.25" stroke="#22507f" stroke-width="0.9"/>
<line x1="323.76" y1="244.25" x2="326.36" y2="244.25" stroke="#22507f" stroke-width="0.9"/>
<line x1="323.76" y1="248.25" x2="326.36" y2="248.25" stroke="#22507f" stroke-width="0.9"/>
<path d="M325.06,244.49 L326.66,247.53 L323.46,247.53Z" fill="#22507f"/>
<polyline points="218.5,190.5 273.5,200 301,209.5 314.75,220.75 321.62,231.25 325.06,242.5" fill="none" stroke="#b0223f" stroke-width="1.15" stroke-linejoin="round"/>
<line x1="218.5" y1="189" x2="218.5" y2="192" stroke="#b0223f" stroke-width="0.9"/>
<line x1="217.2" y1="189" x2="219.8" y2="189" stroke="#b0223f" stroke-width="0.9"/>
<line x1="217.2" y1="192" x2="219.8" y2="192" stroke="#b0223f" stroke-width="0.9"/>
<path d="M218.5,192.26 L220.1,189.22 L216.9,189.22Z" fill="#b0223f"/>
<line x1="273.5" y1="198" x2="273.5" y2="202" stroke="#b0223f" stroke-width="0.9"/>
<line x1="272.2" y1="198" x2="274.8" y2="198" stroke="#b0223f" stroke-width="0.9"/>
<line x1="272.2" y1="202" x2="274.8" y2="202" stroke="#b0223f" stroke-width="0.9"/>
<path d="M273.5,201.76 L275.1,198.72 L271.9,198.72Z" fill="#b0223f"/>
<line x1="301" y1="207.5" x2="301" y2="211.5" stroke="#b0223f" stroke-width="0.9"/>
<line x1="299.7" y1="207.5" x2="302.3" y2="207.5" stroke="#b0223f" stroke-width="0.9"/>
<line x1="299.7" y1="211.5" x2="302.3" y2="211.5" stroke="#b0223f" stroke-width="0.9"/>
<path d="M301,211.26 L302.6,208.22 L299.4,208.22Z" fill="#b0223f"/>
<line x1="314.75" y1="218.75" x2="314.75" y2="222.75" stroke="#b0223f" stroke-width="0.9"/>
<line x1="313.45" y1="218.75" x2="316.05" y2="218.75" stroke="#b0223f" stroke-width="0.9"/>
<line x1="313.45" y1="222.75" x2="316.05" y2="222.75" stroke="#b0223f" stroke-width="0.9"/>
<path d="M314.75,222.51 L316.35,219.47 L313.15,219.47Z" fill="#b0223f"/>
<line x1="321.62" y1="228.75" x2="321.62" y2="233.75" stroke="#b0223f" stroke-width="0.9"/>
<line x1="320.32" y1="228.75" x2="322.93" y2="228.75" stroke="#b0223f" stroke-width="0.9"/>
<line x1="320.32" y1="233.75" x2="322.93" y2="233.75" stroke="#b0223f" stroke-width="0.9"/>
<path d="M321.62,233.01 L323.23,229.97 L320.02,229.97Z" fill="#b0223f"/>
<line x1="325.06" y1="240.5" x2="325.06" y2="244.5" stroke="#b0223f" stroke-width="0.9"/>
<line x1="323.76" y1="240.5" x2="326.36" y2="240.5" stroke="#b0223f" stroke-width="0.9"/>
<line x1="323.76" y1="244.5" x2="326.36" y2="244.5" stroke="#b0223f" stroke-width="0.9"/>
<path d="M325.06,244.26 L326.66,241.22 L323.46,241.22Z" fill="#b0223f"/>
<polyline points="218.5,211.25 273.5,219.5 301,231.75 314.75,238.75 321.62,247 325.06,251.25" fill="none" stroke="#4e2a76" stroke-width="1.15" stroke-linejoin="round"/>
<line x1="218.5" y1="205.75" x2="218.5" y2="216.75" stroke="#4e2a76" stroke-width="0.9"/>
<line x1="217.2" y1="205.75" x2="219.8" y2="205.75" stroke="#4e2a76" stroke-width="0.9"/>
<line x1="217.2" y1="216.75" x2="219.8" y2="216.75" stroke="#4e2a76" stroke-width="0.9"/>
<rect x="217.06" y="209.81" width="2.88" height="2.88" fill="#4e2a76"/>
<line x1="273.5" y1="212.5" x2="273.5" y2="226.5" stroke="#4e2a76" stroke-width="0.9"/>
<line x1="272.2" y1="212.5" x2="274.8" y2="212.5" stroke="#4e2a76" stroke-width="0.9"/>
<line x1="272.2" y1="226.5" x2="274.8" y2="226.5" stroke="#4e2a76" stroke-width="0.9"/>
<rect x="272.06" y="218.06" width="2.88" height="2.88" fill="#4e2a76"/>
<line x1="301" y1="225.75" x2="301" y2="237.75" stroke="#4e2a76" stroke-width="0.9"/>
<line x1="299.7" y1="225.75" x2="302.3" y2="225.75" stroke="#4e2a76" stroke-width="0.9"/>
<line x1="299.7" y1="237.75" x2="302.3" y2="237.75" stroke="#4e2a76" stroke-width="0.9"/>
<rect x="299.56" y="230.31" width="2.88" height="2.88" fill="#4e2a76"/>
<line x1="314.75" y1="233.25" x2="314.75" y2="244.25" stroke="#4e2a76" stroke-width="0.9"/>
<line x1="313.45" y1="233.25" x2="316.05" y2="233.25" stroke="#4e2a76" stroke-width="0.9"/>
<line x1="313.45" y1="244.25" x2="316.05" y2="244.25" stroke="#4e2a76" stroke-width="0.9"/>
<rect x="313.31" y="237.31" width="2.88" height="2.88" fill="#4e2a76"/>
<line x1="321.62" y1="244" x2="321.62" y2="250" stroke="#4e2a76" stroke-width="0.9"/>
<line x1="320.32" y1="244" x2="322.93" y2="244" stroke="#4e2a76" stroke-width="0.9"/>
<line x1="320.32" y1="250" x2="322.93" y2="250" stroke="#4e2a76" stroke-width="0.9"/>
<rect x="320.19" y="245.56" width="2.88" height="2.88" fill="#4e2a76"/>
<line x1="325.06" y1="249.25" x2="325.06" y2="253.25" stroke="#4e2a76" stroke-width="0.9"/>
<line x1="323.76" y1="249.25" x2="326.36" y2="249.25" stroke="#4e2a76" stroke-width="0.9"/>
<line x1="323.76" y1="253.25" x2="326.36" y2="253.25" stroke="#4e2a76" stroke-width="0.9"/>
<rect x="323.62" y="249.81" width="2.88" height="2.88" fill="#4e2a76"/>
<line x1="373.5" y1="173.8" x2="373.5" y2="258.2" stroke="#222" stroke-width="1.2"/>
<line x1="373.5" y1="258.2" x2="500" y2="258.2" stroke="#222" stroke-width="1.2"/>
<line x1="370.5" y1="177.7" x2="373.5" y2="177.7" stroke="#222" stroke-width="1.0"/>
<text x="367.3" y="180.5" font-size="7.8" text-anchor="end" fill="#222">100</text>
<line x1="370.5" y1="217.8" x2="373.5" y2="217.8" stroke="#222" stroke-width="1.0"/>
<text x="367.3" y="220.6" font-size="7.8" text-anchor="end" fill="#222">50</text>
<line x1="370.5" y1="257.8" x2="373.5" y2="257.8" stroke="#222" stroke-width="1.0"/>
<text x="367.3" y="260.6" font-size="7.8" text-anchor="end" fill="#222">0</text>
<line x1="385.1" y1="258.2" x2="385.1" y2="261" stroke="#222" stroke-width="1.0"/>
<text x="385.6" y="269.6" font-size="7.8" text-anchor="middle" fill="#222">10</text>
<line x1="440.1" y1="258.2" x2="440.1" y2="261" stroke="#222" stroke-width="1.0"/>
<text x="440.6" y="269.6" font-size="7.8" text-anchor="middle" fill="#222">5</text>
<line x1="495.1" y1="258.2" x2="495.1" y2="261" stroke="#222" stroke-width="1.0"/>
<text x="495.6" y="269.6" font-size="7.8" text-anchor="middle" fill="#222">0</text>
<text x="436.4" y="281.8" font-size="9.7" text-anchor="middle" fill="#222" font-weight="bold" textLength="36.2" lengthAdjust="spacingAndGlyphs">NK:CLL ratio</text>
<text x="351.1" y="215.6" font-size="9.3" text-anchor="middle" fill="#222" font-weight="bold" textLength="25.5" lengthAdjust="spacingAndGlyphs" transform="rotate(-90 351.1 215.6)">% Killing</text>
<text x="436.6" y="165" font-size="9.2" text-anchor="middle" fill="#222" textLength="58.4" lengthAdjust="spacingAndGlyphs">Obinutuzumab</text>
<polyline points="385.1,186.1 440.1,190.8 467.6,202.5 481.35,211 488.23,229.7 491.66,238" fill="none" stroke="#42a247" stroke-width="1.15" stroke-linejoin="round"/>
<line x1="385.1" y1="184.1" x2="385.1" y2="188.1" stroke="#42a247" stroke-width="0.9"/>
<line x1="383.8" y1="184.1" x2="386.4" y2="184.1" stroke="#42a247" stroke-width="0.9"/>
<line x1="383.8" y1="188.1" x2="386.4" y2="188.1" stroke="#42a247" stroke-width="0.9"/>
<circle cx="385.1" cy="186.1" r="1.6" fill="#42a247"/>
<line x1="440.1" y1="188.8" x2="440.1" y2="192.8" stroke="#42a247" stroke-width="0.9"/>
<line x1="438.8" y1="188.8" x2="441.4" y2="188.8" stroke="#42a247" stroke-width="0.9"/>
<line x1="438.8" y1="192.8" x2="441.4" y2="192.8" stroke="#42a247" stroke-width="0.9"/>
<circle cx="440.1" cy="190.8" r="1.6" fill="#42a247"/>
<line x1="467.6" y1="200" x2="467.6" y2="205" stroke="#42a247" stroke-width="0.9"/>
<line x1="466.3" y1="200" x2="468.9" y2="200" stroke="#42a247" stroke-width="0.9"/>
<line x1="466.3" y1="205" x2="468.9" y2="205" stroke="#42a247" stroke-width="0.9"/>
<circle cx="467.6" cy="202.5" r="1.6" fill="#42a247"/>
<line x1="481.35" y1="208.5" x2="481.35" y2="213.5" stroke="#42a247" stroke-width="0.9"/>
<line x1="480.05" y1="208.5" x2="482.65" y2="208.5" stroke="#42a247" stroke-width="0.9"/>
<line x1="480.05" y1="213.5" x2="482.65" y2="213.5" stroke="#42a247" stroke-width="0.9"/>
<circle cx="481.35" cy="211" r="1.6" fill="#42a247"/>
<line x1="488.23" y1="226.7" x2="488.23" y2="232.7" stroke="#42a247" stroke-width="0.9"/>
<line x1="486.93" y1="226.7" x2="489.53" y2="226.7" stroke="#42a247" stroke-width="0.9"/>
<line x1="486.93" y1="232.7" x2="489.53" y2="232.7" stroke="#42a247" stroke-width="0.9"/>
<circle cx="488.23" cy="229.7" r="1.6" fill="#42a247"/>
<line x1="491.66" y1="235.5" x2="491.66" y2="240.5" stroke="#42a247" stroke-width="0.9"/>
<line x1="490.36" y1="235.5" x2="492.96" y2="235.5" stroke="#42a247" stroke-width="0.9"/>
<line x1="490.36" y1="240.5" x2="492.96" y2="240.5" stroke="#42a247" stroke-width="0.9"/>
<circle cx="491.66" cy="238" r="1.6" fill="#42a247"/>
<polyline points="385.1,189 440.1,195.4 467.6,205 481.35,216.7 488.23,232.3 491.66,244.8" fill="none" stroke="#22507f" stroke-width="1.15" stroke-linejoin="round"/>
<line x1="385.1" y1="187" x2="385.1" y2="191" stroke="#22507f" stroke-width="0.9"/>
<line x1="383.8" y1="187" x2="386.4" y2="187" stroke="#22507f" stroke-width="0.9"/>
<line x1="383.8" y1="191" x2="386.4" y2="191" stroke="#22507f" stroke-width="0.9"/>
<path d="M385.1,187.24 L386.7,190.28 L383.5,190.28Z" fill="#22507f"/>
<line x1="440.1" y1="192.9" x2="440.1" y2="197.9" stroke="#22507f" stroke-width="0.9"/>
<line x1="438.8" y1="192.9" x2="441.4" y2="192.9" stroke="#22507f" stroke-width="0.9"/>
<line x1="438.8" y1="197.9" x2="441.4" y2="197.9" stroke="#22507f" stroke-width="0.9"/>
<path d="M440.1,193.64 L441.7,196.68 L438.5,196.68Z" fill="#22507f"/>
<line x1="467.6" y1="202.5" x2="467.6" y2="207.5" stroke="#22507f" stroke-width="0.9"/>
<line x1="466.3" y1="202.5" x2="468.9" y2="202.5" stroke="#22507f" stroke-width="0.9"/>
<line x1="466.3" y1="207.5" x2="468.9" y2="207.5" stroke="#22507f" stroke-width="0.9"/>
<path d="M467.6,203.24 L469.2,206.28 L466,206.28Z" fill="#22507f"/>
<line x1="481.35" y1="213.7" x2="481.35" y2="219.7" stroke="#22507f" stroke-width="0.9"/>
<line x1="480.05" y1="213.7" x2="482.65" y2="213.7" stroke="#22507f" stroke-width="0.9"/>
<line x1="480.05" y1="219.7" x2="482.65" y2="219.7" stroke="#22507f" stroke-width="0.9"/>
<path d="M481.35,214.94 L482.95,217.98 L479.75,217.98Z" fill="#22507f"/>
<line x1="488.23" y1="229.3" x2="488.23" y2="235.3" stroke="#22507f" stroke-width="0.9"/>
<line x1="486.93" y1="229.3" x2="489.53" y2="229.3" stroke="#22507f" stroke-width="0.9"/>
<line x1="486.93" y1="235.3" x2="489.53" y2="235.3" stroke="#22507f" stroke-width="0.9"/>
<path d="M488.23,230.54 L489.83,233.58 L486.62,233.58Z" fill="#22507f"/>
<line x1="491.66" y1="242.3" x2="491.66" y2="247.3" stroke="#22507f" stroke-width="0.9"/>
<line x1="490.36" y1="242.3" x2="492.96" y2="242.3" stroke="#22507f" stroke-width="0.9"/>
<line x1="490.36" y1="247.3" x2="492.96" y2="247.3" stroke="#22507f" stroke-width="0.9"/>
<path d="M491.66,243.04 L493.26,246.08 L490.06,246.08Z" fill="#22507f"/>
<polyline points="385.1,181.2 440.1,186.9 467.6,194.7 481.35,203.2 488.23,215.4 491.66,228.9" fill="none" stroke="#b0223f" stroke-width="1.15" stroke-linejoin="round"/>
<line x1="385.1" y1="179.2" x2="385.1" y2="183.2" stroke="#b0223f" stroke-width="0.9"/>
<line x1="383.8" y1="179.2" x2="386.4" y2="179.2" stroke="#b0223f" stroke-width="0.9"/>
<line x1="383.8" y1="183.2" x2="386.4" y2="183.2" stroke="#b0223f" stroke-width="0.9"/>
<path d="M385.1,182.96 L386.7,179.92 L383.5,179.92Z" fill="#b0223f"/>
<line x1="440.1" y1="184.9" x2="440.1" y2="188.9" stroke="#b0223f" stroke-width="0.9"/>
<line x1="438.8" y1="184.9" x2="441.4" y2="184.9" stroke="#b0223f" stroke-width="0.9"/>
<line x1="438.8" y1="188.9" x2="441.4" y2="188.9" stroke="#b0223f" stroke-width="0.9"/>
<path d="M440.1,188.66 L441.7,185.62 L438.5,185.62Z" fill="#b0223f"/>
<line x1="467.6" y1="192.7" x2="467.6" y2="196.7" stroke="#b0223f" stroke-width="0.9"/>
<line x1="466.3" y1="192.7" x2="468.9" y2="192.7" stroke="#b0223f" stroke-width="0.9"/>
<line x1="466.3" y1="196.7" x2="468.9" y2="196.7" stroke="#b0223f" stroke-width="0.9"/>
<path d="M467.6,196.46 L469.2,193.42 L466,193.42Z" fill="#b0223f"/>
<line x1="481.35" y1="200.7" x2="481.35" y2="205.7" stroke="#b0223f" stroke-width="0.9"/>
<line x1="480.05" y1="200.7" x2="482.65" y2="200.7" stroke="#b0223f" stroke-width="0.9"/>
<line x1="480.05" y1="205.7" x2="482.65" y2="205.7" stroke="#b0223f" stroke-width="0.9"/>
<path d="M481.35,204.96 L482.95,201.92 L479.75,201.92Z" fill="#b0223f"/>
<line x1="488.23" y1="212.9" x2="488.23" y2="217.9" stroke="#b0223f" stroke-width="0.9"/>
<line x1="486.93" y1="212.9" x2="489.53" y2="212.9" stroke="#b0223f" stroke-width="0.9"/>
<line x1="486.93" y1="217.9" x2="489.53" y2="217.9" stroke="#b0223f" stroke-width="0.9"/>
<path d="M488.23,217.16 L489.83,214.12 L486.62,214.12Z" fill="#b0223f"/>
<line x1="491.66" y1="226.9" x2="491.66" y2="230.9" stroke="#b0223f" stroke-width="0.9"/>
<line x1="490.36" y1="226.9" x2="492.96" y2="226.9" stroke="#b0223f" stroke-width="0.9"/>
<line x1="490.36" y1="230.9" x2="492.96" y2="230.9" stroke="#b0223f" stroke-width="0.9"/>
<path d="M491.66,230.66 L493.26,227.62 L490.06,227.62Z" fill="#b0223f"/>
<polyline points="385.1,192.3 440.1,203 467.6,220.1 481.35,230.5 488.23,242.7 491.66,246.6" fill="none" stroke="#4e2a76" stroke-width="1.15" stroke-linejoin="round"/>
<line x1="385.1" y1="189.8" x2="385.1" y2="194.8" stroke="#4e2a76" stroke-width="0.9"/>
<line x1="383.8" y1="189.8" x2="386.4" y2="189.8" stroke="#4e2a76" stroke-width="0.9"/>
<line x1="383.8" y1="194.8" x2="386.4" y2="194.8" stroke="#4e2a76" stroke-width="0.9"/>
<rect x="383.66" y="190.86" width="2.88" height="2.88" fill="#4e2a76"/>
<line x1="440.1" y1="198" x2="440.1" y2="208" stroke="#4e2a76" stroke-width="0.9"/>
<line x1="438.8" y1="198" x2="441.4" y2="198" stroke="#4e2a76" stroke-width="0.9"/>
<line x1="438.8" y1="208" x2="441.4" y2="208" stroke="#4e2a76" stroke-width="0.9"/>
<rect x="438.66" y="201.56" width="2.88" height="2.88" fill="#4e2a76"/>
<line x1="467.6" y1="213.1" x2="467.6" y2="227.1" stroke="#4e2a76" stroke-width="0.9"/>
<line x1="466.3" y1="213.1" x2="468.9" y2="213.1" stroke="#4e2a76" stroke-width="0.9"/>
<line x1="466.3" y1="227.1" x2="468.9" y2="227.1" stroke="#4e2a76" stroke-width="0.9"/>
<rect x="466.16" y="218.66" width="2.88" height="2.88" fill="#4e2a76"/>
<line x1="481.35" y1="223.5" x2="481.35" y2="237.5" stroke="#4e2a76" stroke-width="0.9"/>
<line x1="480.05" y1="223.5" x2="482.65" y2="223.5" stroke="#4e2a76" stroke-width="0.9"/>
<line x1="480.05" y1="237.5" x2="482.65" y2="237.5" stroke="#4e2a76" stroke-width="0.9"/>
<rect x="479.91" y="229.06" width="2.88" height="2.88" fill="#4e2a76"/>
<line x1="488.23" y1="239.2" x2="488.23" y2="246.2" stroke="#4e2a76" stroke-width="0.9"/>
<line x1="486.93" y1="239.2" x2="489.53" y2="239.2" stroke="#4e2a76" stroke-width="0.9"/>
<line x1="486.93" y1="246.2" x2="489.53" y2="246.2" stroke="#4e2a76" stroke-width="0.9"/>
<rect x="486.79" y="241.26" width="2.88" height="2.88" fill="#4e2a76"/>
<line x1="491.66" y1="244.1" x2="491.66" y2="249.1" stroke="#4e2a76" stroke-width="0.9"/>
<line x1="490.36" y1="244.1" x2="492.96" y2="244.1" stroke="#4e2a76" stroke-width="0.9"/>
<line x1="490.36" y1="249.1" x2="492.96" y2="249.1" stroke="#4e2a76" stroke-width="0.9"/>
<rect x="490.22" y="245.16" width="2.88" height="2.88" fill="#4e2a76"/>
<text x="46.25" y="186" font-size="6.4" text-anchor="start" fill="#222" textLength="48.25" lengthAdjust="spacingAndGlyphs">*ND-XNK vs. nNK</text>
<text x="51.25" y="196.5" font-size="6.4" text-anchor="start" fill="#222" textLength="108.25" lengthAdjust="spacingAndGlyphs">*CLL-XNK or Ibru-CLL-XNK vs. ND-XNK</text>
<polyline points="51.25,201.2 51.25,198.3 108,198.3 108,201.2" fill="none" stroke="#222" stroke-width="0.9" stroke-linejoin="round"/>
<text x="57" y="209.8" font-size="6.4" text-anchor="start" fill="#222" textLength="96.75" lengthAdjust="spacingAndGlyphs">*CLL-XNK or Ibru-CLL-XNK vs. nNK</text>
<polyline points="51.25,214.2 51.25,211.3 135.75,211.3 135.75,214.2" fill="none" stroke="#222" stroke-width="0.9" stroke-linejoin="round"/>
<text x="234.1" y="176.8" font-size="6.2" text-anchor="start" fill="#222" textLength="65.9" lengthAdjust="spacingAndGlyphs">*All comparisons to nNK</text>
<polyline points="218.8,182.6 218.8,179.5 315.5,179.5 315.5,182.6" fill="none" stroke="#222" stroke-width="0.9" stroke-linejoin="round"/>
<text x="475.3" y="164.8" font-size="5.9" text-anchor="start" fill="#222">*All comparisons</text>
<text x="487.8" y="172.6" font-size="5.6" text-anchor="start" fill="#222" textLength="19.2" lengthAdjust="spacingAndGlyphs">to nNK</text>
<polyline points="467.4,178.5 467.4,175.3 488.8,175.3 488.8,178.5" fill="none" stroke="#222" stroke-width="0.9" stroke-linejoin="round"/>
<line x1="156.9" y1="293.5" x2="169.6" y2="293.5" stroke="#42a247" stroke-width="1.4"/>
<circle cx="163.25" cy="293.5" r="2.1" fill="#42a247"/>
<text x="172.6" y="296.4" font-size="7.4" text-anchor="start" fill="#222" textLength="27" lengthAdjust="spacingAndGlyphs">ND-XNK</text>
<line x1="208.2" y1="293.5" x2="220.4" y2="293.5" stroke="#22507f" stroke-width="1.4"/>
<path d="M214.3,291.19 L216.4,295.18 L212.2,295.18Z" fill="#22507f"/>
<text x="223.8" y="296.4" font-size="7.4" text-anchor="start" fill="#222" textLength="29.6" lengthAdjust="spacingAndGlyphs">CLL-XNK</text>
<line x1="263.1" y1="293.5" x2="276.2" y2="293.5" stroke="#b0223f" stroke-width="1.4"/>
<path d="M269.65,295.81 L271.75,291.82 L267.55,291.82Z" fill="#b0223f"/>
<text x="279.2" y="296.4" font-size="7.4" text-anchor="start" fill="#222" textLength="44.3" lengthAdjust="spacingAndGlyphs">Ibru-CLL-XNK</text>
<line x1="332.3" y1="293.5" x2="345" y2="293.5" stroke="#4e2a76" stroke-width="1.4"/>
<rect x="336.76" y="291.61" width="3.78" height="3.78" fill="#4e2a76"/>
<text x="348" y="296.4" font-size="7.4" text-anchor="start" fill="#222" textLength="15" lengthAdjust="spacingAndGlyphs">NNK</text>
<line x1="164.2" y1="318.2" x2="164.2" y2="402.1" stroke="#222" stroke-width="1.2"/>
<line x1="164.2" y1="402.1" x2="288.7" y2="402.1" stroke="#222" stroke-width="1.2"/>
<line x1="161.2" y1="321.5" x2="164.2" y2="321.5" stroke="#222" stroke-width="1.0"/>
<text x="157.9" y="324.3" font-size="7.8" text-anchor="end" fill="#222">100</text>
<line x1="161.2" y1="361.7" x2="164.2" y2="361.7" stroke="#222" stroke-width="1.0"/>
<text x="157.9" y="364.5" font-size="7.8" text-anchor="end" fill="#222">50</text>
<line x1="161.2" y1="401.8" x2="164.2" y2="401.8" stroke="#222" stroke-width="1.0"/>
<text x="157.9" y="404.6" font-size="7.8" text-anchor="end" fill="#222">0</text>
<line x1="175.4" y1="402.1" x2="175.4" y2="404.9" stroke="#222" stroke-width="1.0"/>
<text x="175.7" y="414.1" font-size="7.8" text-anchor="middle" fill="#222">10</text>
<line x1="229.8" y1="402.1" x2="229.8" y2="404.9" stroke="#222" stroke-width="1.0"/>
<text x="230.1" y="414.1" font-size="7.8" text-anchor="middle" fill="#222">5</text>
<line x1="281.5" y1="402.1" x2="281.5" y2="404.9" stroke="#222" stroke-width="1.0"/>
<text x="281.8" y="414.1" font-size="7.8" text-anchor="middle" fill="#222">0</text>
<text x="226.3" y="426" font-size="9.7" text-anchor="middle" fill="#222" font-weight="bold" textLength="36.9" lengthAdjust="spacingAndGlyphs">NK:CLL ratio</text>
<text x="141.6" y="361" font-size="9.3" text-anchor="middle" fill="#222" font-weight="bold" textLength="25.5" lengthAdjust="spacingAndGlyphs" transform="rotate(-90 141.6 361)">% Killing</text>
<line x1="176.1" y1="329.5" x2="176.1" y2="341" stroke="#42a247" stroke-width="0.9"/>
<line x1="174.8" y1="329.5" x2="177.4" y2="329.5" stroke="#42a247" stroke-width="0.9"/>
<line x1="174.8" y1="341" x2="177.4" y2="341" stroke="#42a247" stroke-width="0.9"/>
<line x1="229.8" y1="331.4" x2="229.8" y2="346" stroke="#42a247" stroke-width="0.9"/>
<line x1="228.5" y1="331.4" x2="231.1" y2="331.4" stroke="#42a247" stroke-width="0.9"/>
<line x1="228.5" y1="346" x2="231.1" y2="346" stroke="#42a247" stroke-width="0.9"/>
<line x1="257.5" y1="339.2" x2="257.5" y2="351.6" stroke="#42a247" stroke-width="0.9"/>
<line x1="256.2" y1="339.2" x2="258.8" y2="339.2" stroke="#42a247" stroke-width="0.9"/>
<line x1="256.2" y1="351.6" x2="258.8" y2="351.6" stroke="#42a247" stroke-width="0.9"/>
<line x1="271.3" y1="345.1" x2="271.3" y2="362.3" stroke="#42a247" stroke-width="0.9"/>
<line x1="270" y1="345.1" x2="272.6" y2="345.1" stroke="#42a247" stroke-width="0.9"/>
<line x1="270" y1="362.3" x2="272.6" y2="362.3" stroke="#42a247" stroke-width="0.9"/>
<line x1="278.4" y1="357.6" x2="278.4" y2="370.4" stroke="#42a247" stroke-width="0.9"/>
<line x1="277.1" y1="357.6" x2="279.7" y2="357.6" stroke="#42a247" stroke-width="0.9"/>
<line x1="277.1" y1="370.4" x2="279.7" y2="370.4" stroke="#42a247" stroke-width="0.9"/>
<line x1="281.4" y1="369.1" x2="281.4" y2="383.9" stroke="#42a247" stroke-width="0.9"/>
<line x1="280.1" y1="369.1" x2="282.7" y2="369.1" stroke="#42a247" stroke-width="0.9"/>
<line x1="280.1" y1="383.9" x2="282.7" y2="383.9" stroke="#42a247" stroke-width="0.9"/>
<line x1="176.1" y1="338.3" x2="176.1" y2="349" stroke="#22507f" stroke-width="0.9"/>
<line x1="174.8" y1="338.3" x2="177.4" y2="338.3" stroke="#22507f" stroke-width="0.9"/>
<line x1="174.8" y1="349" x2="177.4" y2="349" stroke="#22507f" stroke-width="0.9"/>
<line x1="229.8" y1="342" x2="229.8" y2="358.9" stroke="#22507f" stroke-width="0.9"/>
<line x1="228.5" y1="342" x2="231.1" y2="342" stroke="#22507f" stroke-width="0.9"/>
<line x1="228.5" y1="358.9" x2="231.1" y2="358.9" stroke="#22507f" stroke-width="0.9"/>
<line x1="257.5" y1="350.2" x2="257.5" y2="366.1" stroke="#22507f" stroke-width="0.9"/>
<line x1="256.2" y1="350.2" x2="258.8" y2="350.2" stroke="#22507f" stroke-width="0.9"/>
<line x1="256.2" y1="366.1" x2="258.8" y2="366.1" stroke="#22507f" stroke-width="0.9"/>
<line x1="271.3" y1="360.3" x2="271.3" y2="377.2" stroke="#22507f" stroke-width="0.9"/>
<line x1="270" y1="360.3" x2="272.6" y2="360.3" stroke="#22507f" stroke-width="0.9"/>
<line x1="270" y1="377.2" x2="272.6" y2="377.2" stroke="#22507f" stroke-width="0.9"/>
<line x1="278.4" y1="376.5" x2="278.4" y2="385.3" stroke="#22507f" stroke-width="0.9"/>
<line x1="277.1" y1="376.5" x2="279.7" y2="376.5" stroke="#22507f" stroke-width="0.9"/>
<line x1="277.1" y1="385.3" x2="279.7" y2="385.3" stroke="#22507f" stroke-width="0.9"/>
<line x1="281.4" y1="380" x2="281.4" y2="388" stroke="#22507f" stroke-width="0.9"/>
<line x1="280.1" y1="380" x2="282.7" y2="380" stroke="#22507f" stroke-width="0.9"/>
<line x1="280.1" y1="388" x2="282.7" y2="388" stroke="#22507f" stroke-width="0.9"/>
<line x1="176.1" y1="360.9" x2="176.1" y2="375.2" stroke="#b0223f" stroke-width="0.9"/>
<line x1="174.8" y1="360.9" x2="177.4" y2="360.9" stroke="#b0223f" stroke-width="0.9"/>
<line x1="174.8" y1="375.2" x2="177.4" y2="375.2" stroke="#b0223f" stroke-width="0.9"/>
<line x1="229.8" y1="369.1" x2="229.8" y2="382.5" stroke="#b0223f" stroke-width="0.9"/>
<line x1="228.5" y1="369.1" x2="231.1" y2="369.1" stroke="#b0223f" stroke-width="0.9"/>
<line x1="228.5" y1="382.5" x2="231.1" y2="382.5" stroke="#b0223f" stroke-width="0.9"/>
<line x1="257.5" y1="373.8" x2="257.5" y2="386.6" stroke="#b0223f" stroke-width="0.9"/>
<line x1="256.2" y1="373.8" x2="258.8" y2="373.8" stroke="#b0223f" stroke-width="0.9"/>
<line x1="256.2" y1="386.6" x2="258.8" y2="386.6" stroke="#b0223f" stroke-width="0.9"/>
<line x1="271.3" y1="380.5" x2="271.3" y2="393.3" stroke="#b0223f" stroke-width="0.9"/>
<line x1="270" y1="380.5" x2="272.6" y2="380.5" stroke="#b0223f" stroke-width="0.9"/>
<line x1="270" y1="393.3" x2="272.6" y2="393.3" stroke="#b0223f" stroke-width="0.9"/>
<line x1="278.4" y1="385.3" x2="278.4" y2="394" stroke="#b0223f" stroke-width="0.9"/>
<line x1="277.1" y1="385.3" x2="279.7" y2="385.3" stroke="#b0223f" stroke-width="0.9"/>
<line x1="277.1" y1="394" x2="279.7" y2="394" stroke="#b0223f" stroke-width="0.9"/>
<line x1="281.4" y1="390.6" x2="281.4" y2="400" stroke="#b0223f" stroke-width="0.9"/>
<line x1="280.1" y1="390.6" x2="282.7" y2="390.6" stroke="#b0223f" stroke-width="0.9"/>
<line x1="280.1" y1="400" x2="282.7" y2="400" stroke="#b0223f" stroke-width="0.9"/>
<path d="M176.1,335.7 C185.05,336.27 216.23,337.35 229.8,339.1 C243.37,340.85 250.58,343.9 257.5,346.2 C264.42,348.5 267.82,349.08 271.3,352.9 C274.78,356.72 276.72,364.15 278.4,369.1 C280.08,374.05 280.9,380.35 281.4,382.6" fill="none" stroke="#42a247" stroke-width="1.4"/>
<path d="M176.1,333 C185.05,333.93 216.23,336.07 229.8,338.6 C243.37,341.13 250.58,345.37 257.5,348.2 C264.42,351.03 267.82,351.9 271.3,355.6 C274.78,359.3 276.72,365.75 278.4,370.4 C280.08,375.05 280.9,381.32 281.4,383.5" fill="none" stroke="#42a247" stroke-width="1.3" stroke-dasharray="3,2"/>
<rect x="175.2" y="334.8" width="1.8" height="1.8" fill="#42a247"/>
<rect x="175.2" y="332.1" width="1.8" height="1.8" fill="#42a247"/>
<rect x="228.9" y="338.2" width="1.8" height="1.8" fill="#42a247"/>
<rect x="228.9" y="337.7" width="1.8" height="1.8" fill="#42a247"/>
<rect x="256.6" y="345.3" width="1.8" height="1.8" fill="#42a247"/>
<rect x="256.6" y="347.3" width="1.8" height="1.8" fill="#42a247"/>
<rect x="270.4" y="352" width="1.8" height="1.8" fill="#42a247"/>
<rect x="270.4" y="354.7" width="1.8" height="1.8" fill="#42a247"/>
<rect x="277.5" y="368.2" width="1.8" height="1.8" fill="#42a247"/>
<rect x="277.5" y="369.5" width="1.8" height="1.8" fill="#42a247"/>
<rect x="280.5" y="381.7" width="1.8" height="1.8" fill="#42a247"/>
<rect x="280.5" y="382.6" width="1.8" height="1.8" fill="#42a247"/>
<path d="M176.1,341.7 C185.05,343.15 216.23,347.75 229.8,350.4 C243.37,353.05 250.58,354.27 257.5,357.6 C264.42,360.93 267.82,366.92 271.3,370.4 C274.78,373.88 276.72,376.15 278.4,378.5 C280.08,380.85 280.9,383.5 281.4,384.5" fill="none" stroke="#22507f" stroke-width="1.4"/>
<path d="M176.1,340.4 C185.05,341.83 216.23,346.23 229.8,349 C243.37,351.77 250.58,353.58 257.5,357 C264.42,360.42 267.82,366 271.3,369.5 C274.78,373 276.72,375.42 278.4,378 C280.08,380.58 280.9,383.83 281.4,385" fill="none" stroke="#22507f" stroke-width="1.3" stroke-dasharray="3,2"/>
<rect x="175.2" y="340.8" width="1.8" height="1.8" fill="#22507f"/>
<rect x="175.2" y="339.5" width="1.8" height="1.8" fill="#22507f"/>
<rect x="228.9" y="349.5" width="1.8" height="1.8" fill="#22507f"/>
<rect x="228.9" y="348.1" width="1.8" height="1.8" fill="#22507f"/>
<rect x="256.6" y="356.7" width="1.8" height="1.8" fill="#22507f"/>
<rect x="256.6" y="356.1" width="1.8" height="1.8" fill="#22507f"/>
<rect x="270.4" y="369.5" width="1.8" height="1.8" fill="#22507f"/>
<rect x="270.4" y="368.6" width="1.8" height="1.8" fill="#22507f"/>
<rect x="277.5" y="377.6" width="1.8" height="1.8" fill="#22507f"/>
<rect x="277.5" y="377.1" width="1.8" height="1.8" fill="#22507f"/>
<rect x="280.5" y="383.6" width="1.8" height="1.8" fill="#22507f"/>
<rect x="280.5" y="384.1" width="1.8" height="1.8" fill="#22507f"/>
<path d="M176.1,368 C185.05,369.2 216.23,373.12 229.8,375.2 C243.37,377.28 250.58,378.72 257.5,380.5 C264.42,382.28 267.82,384.32 271.3,385.9 C274.78,387.48 276.72,388.73 278.4,390 C280.08,391.27 280.9,392.92 281.4,393.5" fill="none" stroke="#b0223f" stroke-width="1.4"/>
<path d="M176.1,367.4 C185.05,368.57 216.23,371.87 229.8,374.4 C243.37,376.93 250.58,380.23 257.5,382.6 C264.42,384.97 267.82,386.82 271.3,388.6 C274.78,390.38 276.72,391.5 278.4,393.3 C280.08,395.1 280.9,398.38 281.4,399.4" fill="none" stroke="#b0223f" stroke-width="1.3" stroke-dasharray="3,2"/>
<rect x="175.2" y="367.1" width="1.8" height="1.8" fill="#b0223f"/>
<rect x="175.2" y="366.5" width="1.8" height="1.8" fill="#b0223f"/>
<rect x="228.9" y="374.3" width="1.8" height="1.8" fill="#b0223f"/>
<rect x="228.9" y="373.5" width="1.8" height="1.8" fill="#b0223f"/>
<rect x="256.6" y="379.6" width="1.8" height="1.8" fill="#b0223f"/>
<rect x="256.6" y="381.7" width="1.8" height="1.8" fill="#b0223f"/>
<rect x="270.4" y="385" width="1.8" height="1.8" fill="#b0223f"/>
<rect x="270.4" y="387.7" width="1.8" height="1.8" fill="#b0223f"/>
<rect x="277.5" y="389.1" width="1.8" height="1.8" fill="#b0223f"/>
<rect x="277.5" y="392.4" width="1.8" height="1.8" fill="#b0223f"/>
<rect x="280.5" y="392.6" width="1.8" height="1.8" fill="#b0223f"/>
<rect x="280.5" y="398.5" width="1.8" height="1.8" fill="#b0223f"/>
<line x1="299.5" y1="330.5" x2="312" y2="330.5" stroke="#42a247" stroke-width="1.3"/>
<text x="315" y="333.1" font-size="7.5" text-anchor="start" fill="#222" textLength="83" lengthAdjust="spacingAndGlyphs">Obinutuzumab autologous</text>
<line x1="299.5" y1="341.8" x2="312" y2="341.8" stroke="#42a247" stroke-width="1.3" stroke-dasharray="3,2"/>
<text x="315" y="344.4" font-size="7.5" text-anchor="start" fill="#222" textLength="80" lengthAdjust="spacingAndGlyphs">Obinutuzumab allogeneic</text>
<line x1="299.5" y1="353.1" x2="312" y2="353.1" stroke="#22507f" stroke-width="1.3"/>
<text x="315" y="355.7" font-size="7.5" text-anchor="start" fill="#222" textLength="67.5" lengthAdjust="spacingAndGlyphs">Rituximab autologous</text>
<line x1="299.5" y1="364.4" x2="312" y2="364.4" stroke="#22507f" stroke-width="1.3" stroke-dasharray="3,2"/>
<text x="315" y="367" font-size="7.5" text-anchor="start" fill="#222" textLength="63.75" lengthAdjust="spacingAndGlyphs">Rituximab allogeneic</text>
<line x1="299.5" y1="375.7" x2="312" y2="375.7" stroke="#b0223f" stroke-width="1.3"/>
<text x="315" y="378.3" font-size="7.5" text-anchor="start" fill="#222" textLength="75" lengthAdjust="spacingAndGlyphs">No antibody autologous</text>
<line x1="299.5" y1="387" x2="312" y2="387" stroke="#b0223f" stroke-width="1.3" stroke-dasharray="3,2"/>
<text x="315" y="389.6" font-size="7.5" text-anchor="start" fill="#222" textLength="72" lengthAdjust="spacingAndGlyphs">No antibody allogeneic</text>
<line x1="58.3" y1="456.6" x2="58.3" y2="542.1" stroke="#222" stroke-width="1.2"/>
<line x1="58.3" y1="542.1" x2="153.3" y2="542.1" stroke="#222" stroke-width="1.2"/>
<line x1="55.5" y1="459.7" x2="58.3" y2="459.7" stroke="#222" stroke-width="1.0"/>
<text x="52" y="462.45" font-size="7.6" text-anchor="end" fill="#222" textLength="21.95" lengthAdjust="spacingAndGlyphs">10000</text>
<line x1="55.5" y1="476.18" x2="58.3" y2="476.18" stroke="#222" stroke-width="1.0"/>
<text x="52" y="478.93" font-size="7.6" text-anchor="end" fill="#222" textLength="17.5" lengthAdjust="spacingAndGlyphs">8000</text>
<line x1="55.5" y1="492.66" x2="58.3" y2="492.66" stroke="#222" stroke-width="1.0"/>
<text x="52" y="495.41" font-size="7.6" text-anchor="end" fill="#222" textLength="17.5" lengthAdjust="spacingAndGlyphs">6000</text>
<line x1="55.5" y1="509.14" x2="58.3" y2="509.14" stroke="#222" stroke-width="1.0"/>
<text x="52" y="511.89" font-size="7.6" text-anchor="end" fill="#222" textLength="17.5" lengthAdjust="spacingAndGlyphs">4000</text>
<line x1="55.5" y1="525.62" x2="58.3" y2="525.62" stroke="#222" stroke-width="1.0"/>
<text x="52" y="528.37" font-size="7.6" text-anchor="end" fill="#222" textLength="17.5" lengthAdjust="spacingAndGlyphs">2000</text>
<line x1="55.5" y1="542.1" x2="58.3" y2="542.1" stroke="#222" stroke-width="1.0"/>
<text x="52" y="544.85" font-size="7.6" text-anchor="end" fill="#222" textLength="4.15" lengthAdjust="spacingAndGlyphs">0</text>
<line x1="84.5" y1="542.1" x2="84.5" y2="544.7" stroke="#222" stroke-width="1.0"/>
<text x="84.5" y="555.2" font-size="7.8" text-anchor="middle" fill="#222" textLength="30" lengthAdjust="spacingAndGlyphs">ND-XNK</text>
<line x1="126.2" y1="542.1" x2="126.2" y2="544.7" stroke="#222" stroke-width="1.0"/>
<text x="126.2" y="555.2" font-size="7.8" text-anchor="middle" fill="#222" textLength="31.5" lengthAdjust="spacingAndGlyphs">CLL-XNK</text>
<text x="24.9" y="499.2" font-size="8.8" text-anchor="middle" fill="#222" font-weight="bold" textLength="10.9" lengthAdjust="spacingAndGlyphs" transform="rotate(-90 24.9 499.2)">MFI</text>
<text x="105" y="447.7" font-size="9.2" text-anchor="middle" fill="#222" textLength="23.8" lengthAdjust="spacingAndGlyphs">CD57</text>
<circle cx="84.7" cy="486" r="1.75" fill="#2e8a45"/>
<circle cx="87.9" cy="493.4" r="1.75" fill="#2e8a45"/>
<circle cx="81.3" cy="496.4" r="1.75" fill="#2e8a45"/>
<circle cx="81.3" cy="501.9" r="1.75" fill="#2e8a45"/>
<circle cx="87.9" cy="501.9" r="1.75" fill="#2e8a45"/>
<circle cx="126.1" cy="472.8" r="1.75" fill="#1b3f70"/>
<circle cx="126.1" cy="477.7" r="1.75" fill="#1b3f70"/>
<circle cx="116" cy="487.4" r="1.75" fill="#1b3f70"/>
<circle cx="122.6" cy="489" r="1.75" fill="#1b3f70"/>
<circle cx="129.3" cy="486.3" r="1.75" fill="#1b3f70"/>
<circle cx="135.8" cy="488.4" r="1.75" fill="#1b3f70"/>
<circle cx="129.3" cy="491.8" r="1.75" fill="#1b3f70"/>
<circle cx="126.1" cy="497.9" r="1.75" fill="#1b3f70"/>
<line x1="73.2" y1="496.4" x2="96.4" y2="496.4" stroke="#222" stroke-width="1.3"/>
<line x1="114.6" y1="487.6" x2="137.8" y2="487.6" stroke="#222" stroke-width="1.3"/>
<polyline points="84.7,479.9 84.7,463.5 126.1,463.5 126.1,467.2" fill="none" stroke="#222" stroke-width="1.0" stroke-linejoin="round"/>
<circle cx="105.5" cy="459.1" r="0.95" fill="#222"/>
<line x1="246" y1="456.6" x2="246" y2="542.1" stroke="#222" stroke-width="1.2"/>
<line x1="246" y1="542.1" x2="342" y2="542.1" stroke="#222" stroke-width="1.2"/>
<line x1="243.2" y1="459.7" x2="246" y2="459.7" stroke="#222" stroke-width="1.0"/>
<text x="239.7" y="462.45" font-size="7.6" text-anchor="end" fill="#222" textLength="26.4" lengthAdjust="spacingAndGlyphs">250000</text>
<line x1="243.2" y1="476.18" x2="246" y2="476.18" stroke="#222" stroke-width="1.0"/>
<text x="239.7" y="478.93" font-size="7.6" text-anchor="end" fill="#222" textLength="26.4" lengthAdjust="spacingAndGlyphs">200000</text>
<line x1="243.2" y1="492.66" x2="246" y2="492.66" stroke="#222" stroke-width="1.0"/>
<text x="239.7" y="495.41" font-size="7.6" text-anchor="end" fill="#222" textLength="26.4" lengthAdjust="spacingAndGlyphs">150000</text>
<line x1="243.2" y1="509.14" x2="246" y2="509.14" stroke="#222" stroke-width="1.0"/>
<text x="239.7" y="511.89" font-size="7.6" text-anchor="end" fill="#222" textLength="26.4" lengthAdjust="spacingAndGlyphs">100000</text>
<line x1="243.2" y1="525.62" x2="246" y2="525.62" stroke="#222" stroke-width="1.0"/>
<text x="239.7" y="528.37" font-size="7.6" text-anchor="end" fill="#222" textLength="21.95" lengthAdjust="spacingAndGlyphs">50000</text>
<line x1="243.2" y1="542.1" x2="246" y2="542.1" stroke="#222" stroke-width="1.0"/>
<text x="239.7" y="544.85" font-size="7.6" text-anchor="end" fill="#222" textLength="4.15" lengthAdjust="spacingAndGlyphs">0</text>
<line x1="272.3" y1="542.1" x2="272.3" y2="544.7" stroke="#222" stroke-width="1.0"/>
<text x="272.3" y="555.2" font-size="7.8" text-anchor="middle" fill="#222" textLength="30" lengthAdjust="spacingAndGlyphs">ND-XNK</text>
<line x1="314.3" y1="542.1" x2="314.3" y2="544.7" stroke="#222" stroke-width="1.0"/>
<text x="314.3" y="555.2" font-size="7.8" text-anchor="middle" fill="#222" textLength="31.5" lengthAdjust="spacingAndGlyphs">CLL-XNK</text>
<text x="208.4" y="499.2" font-size="8.8" text-anchor="middle" fill="#222" font-weight="bold" textLength="10.9" lengthAdjust="spacingAndGlyphs" transform="rotate(-90 208.4 499.2)">MFI</text>
<text x="293.45" y="447.7" font-size="9.2" text-anchor="middle" fill="#222" textLength="33.9" lengthAdjust="spacingAndGlyphs">HLA-DR</text>
<circle cx="272.3" cy="502.1" r="1.75" fill="#2e8a45"/>
<circle cx="265.8" cy="514.6" r="1.75" fill="#2e8a45"/>
<circle cx="272.3" cy="516.2" r="1.75" fill="#2e8a45"/>
<circle cx="279.4" cy="517.2" r="1.75" fill="#2e8a45"/>
<circle cx="265.8" cy="520.3" r="1.75" fill="#2e8a45"/>
<circle cx="314.3" cy="471.2" r="1.75" fill="#1b3f70"/>
<circle cx="310.7" cy="486.8" r="1.75" fill="#1b3f70"/>
<circle cx="310.7" cy="490.4" r="1.75" fill="#1b3f70"/>
<circle cx="317.3" cy="488.8" r="1.75" fill="#1b3f70"/>
<circle cx="314.3" cy="499.1" r="1.75" fill="#1b3f70"/>
<circle cx="310.7" cy="507.1" r="1.75" fill="#1b3f70"/>
<circle cx="317.3" cy="509" r="1.75" fill="#1b3f70"/>
<circle cx="314.3" cy="520.1" r="1.75" fill="#1b3f70"/>
<line x1="261.2" y1="516.2" x2="284.4" y2="516.2" stroke="#222" stroke-width="1.3"/>
<line x1="302.6" y1="494.4" x2="325.8" y2="494.4" stroke="#222" stroke-width="1.3"/>
<polyline points="272.3,496.8 272.3,461.5 314.3,461.5 314.3,466.2" fill="none" stroke="#222" stroke-width="1.0" stroke-linejoin="round"/>
<circle cx="293.5" cy="457.7" r="0.95" fill="#222"/>
<line x1="424.6" y1="456.6" x2="424.6" y2="542.1" stroke="#222" stroke-width="1.2"/>
<line x1="424.6" y1="542.1" x2="518.5" y2="542.1" stroke="#222" stroke-width="1.2"/>
<line x1="421.8" y1="459.7" x2="424.6" y2="459.7" stroke="#222" stroke-width="1.0"/>
<text x="418.3" y="462.45" font-size="7.6" text-anchor="end" fill="#222" textLength="17.5" lengthAdjust="spacingAndGlyphs">3000</text>
<line x1="421.8" y1="487.3" x2="424.6" y2="487.3" stroke="#222" stroke-width="1.0"/>
<text x="418.3" y="490.05" font-size="7.6" text-anchor="end" fill="#222" textLength="17.5" lengthAdjust="spacingAndGlyphs">2000</text>
<line x1="421.8" y1="514.9" x2="424.6" y2="514.9" stroke="#222" stroke-width="1.0"/>
<text x="418.3" y="517.65" font-size="7.6" text-anchor="end" fill="#222" textLength="17.5" lengthAdjust="spacingAndGlyphs">1000</text>
<line x1="421.8" y1="542.3" x2="424.6" y2="542.3" stroke="#222" stroke-width="1.0"/>
<text x="418.3" y="545.05" font-size="7.6" text-anchor="end" fill="#222" textLength="4.15" lengthAdjust="spacingAndGlyphs">0</text>
<line x1="451.3" y1="542.1" x2="451.3" y2="544.7" stroke="#222" stroke-width="1.0"/>
<text x="451.3" y="555.2" font-size="7.8" text-anchor="middle" fill="#222" textLength="30" lengthAdjust="spacingAndGlyphs">ND-XNK</text>
<line x1="492.7" y1="542.1" x2="492.7" y2="544.7" stroke="#222" stroke-width="1.0"/>
<text x="492.7" y="555.2" font-size="7.8" text-anchor="middle" fill="#222" textLength="31.5" lengthAdjust="spacingAndGlyphs">CLL-XNK</text>
<text x="396.8" y="499.2" font-size="8.8" text-anchor="middle" fill="#222" font-weight="bold" textLength="10.9" lengthAdjust="spacingAndGlyphs" transform="rotate(-90 396.8 499.2)">MFI</text>
<text x="471.95" y="447.7" font-size="9.2" text-anchor="middle" fill="#222" textLength="26.3" lengthAdjust="spacingAndGlyphs">LAG-3</text>
<circle cx="451.3" cy="480.3" r="1.75" fill="#2e8a45"/>
<circle cx="451.3" cy="486.3" r="1.75" fill="#2e8a45"/>
<circle cx="451.3" cy="494.8" r="1.75" fill="#2e8a45"/>
<circle cx="451.3" cy="498.5" r="1.75" fill="#2e8a45"/>
<circle cx="451.3" cy="510" r="1.75" fill="#2e8a45"/>
<circle cx="492.7" cy="465.5" r="1.75" fill="#1b3f70"/>
<circle cx="492.7" cy="473.2" r="1.75" fill="#1b3f70"/>
<circle cx="482.6" cy="480.9" r="1.75" fill="#1b3f70"/>
<circle cx="489.7" cy="480.7" r="1.75" fill="#1b3f70"/>
<circle cx="489.7" cy="483.3" r="1.75" fill="#1b3f70"/>
<circle cx="496.2" cy="485.3" r="1.75" fill="#1b3f70"/>
<circle cx="502.8" cy="481.9" r="1.75" fill="#1b3f70"/>
<circle cx="492.7" cy="497.5" r="1.75" fill="#1b3f70"/>
<line x1="439.6" y1="494.8" x2="463.1" y2="494.8" stroke="#222" stroke-width="1.3"/>
<line x1="481.6" y1="481.3" x2="503.9" y2="481.3" stroke="#222" stroke-width="1.3"/>
<polyline points="451.3,474.2 451.3,456.1 492.7,456.1 492.7,461.1" fill="none" stroke="#222" stroke-width="1.0" stroke-linejoin="round"/>
<circle cx="472.1" cy="452.6" r="0.95" fill="#222"/>
</svg>
</body></html>
